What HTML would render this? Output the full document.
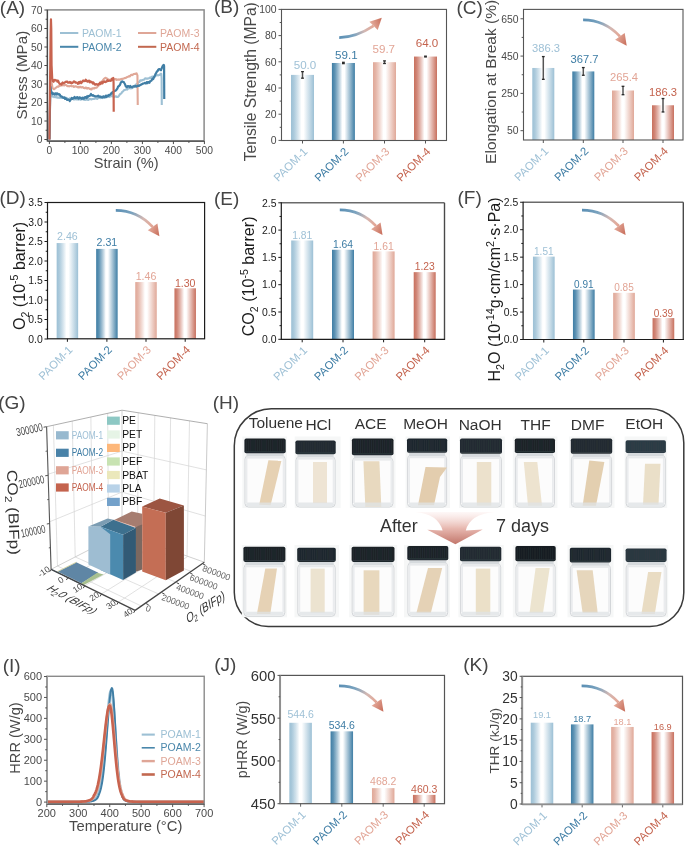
<!DOCTYPE html>
<html><head><meta charset="utf-8"><style>
html,body{margin:0;padding:0;background:#fff;}
svg{display:block;}
text{font-family:"Liberation Sans", sans-serif;}
</style></head><body>
<svg width="685" height="848" viewBox="0 0 685 848">
<defs><filter id="soft" x="0" y="0" width="685" height="848" filterUnits="userSpaceOnUse"><feGaussianBlur stdDeviation="0.45"/></filter><linearGradient id="g0" x1="0" x2="1" y1="0" y2="0"><stop offset="0" stop-color="#9cc0d5"/><stop offset="0.12" stop-color="#9cc0d5" stop-opacity="0.85"/><stop offset="0.45" stop-color="#ffffff"/><stop offset="0.55" stop-color="#ffffff"/><stop offset="1" stop-color="#9cc0d5"/></linearGradient>
<linearGradient id="g1" x1="0" x2="1" y1="0" y2="0"><stop offset="0" stop-color="#3f7ea5"/><stop offset="0.12" stop-color="#3f7ea5" stop-opacity="0.85"/><stop offset="0.45" stop-color="#ffffff"/><stop offset="0.55" stop-color="#ffffff"/><stop offset="1" stop-color="#3f7ea5"/></linearGradient>
<linearGradient id="g2" x1="0" x2="1" y1="0" y2="0"><stop offset="0" stop-color="#e0a898"/><stop offset="0.12" stop-color="#e0a898" stop-opacity="0.85"/><stop offset="0.45" stop-color="#ffffff"/><stop offset="0.55" stop-color="#ffffff"/><stop offset="1" stop-color="#e0a898"/></linearGradient>
<linearGradient id="g3" x1="0" x2="1" y1="0" y2="0"><stop offset="0" stop-color="#c8705e"/><stop offset="0.12" stop-color="#c8705e" stop-opacity="0.85"/><stop offset="0.45" stop-color="#ffffff"/><stop offset="0.55" stop-color="#ffffff"/><stop offset="1" stop-color="#c8705e"/></linearGradient>
<linearGradient id="ag1" gradientUnits="userSpaceOnUse" x1="115.8" y1="210.4" x2="159.4" y2="236.2"><stop offset="0" stop-color="#5a8fb4"/><stop offset="0.3" stop-color="#7ba3bf"/><stop offset="0.55" stop-color="#d3b7b2"/><stop offset="0.75" stop-color="#e3a999"/><stop offset="1" stop-color="#c66a57"/></linearGradient>
<linearGradient id="ag2" gradientUnits="userSpaceOnUse" x1="339.8" y1="209.9" x2="382.53" y2="234.93"><stop offset="0" stop-color="#5a8fb4"/><stop offset="0.3" stop-color="#7ba3bf"/><stop offset="0.55" stop-color="#d3b7b2"/><stop offset="0.75" stop-color="#e3a999"/><stop offset="1" stop-color="#c66a57"/></linearGradient>
<linearGradient id="ag3" gradientUnits="userSpaceOnUse" x1="582" y1="210.2" x2="625.6" y2="234.97"><stop offset="0" stop-color="#5a8fb4"/><stop offset="0.3" stop-color="#7ba3bf"/><stop offset="0.55" stop-color="#d3b7b2"/><stop offset="0.75" stop-color="#e3a999"/><stop offset="1" stop-color="#c66a57"/></linearGradient>
<linearGradient id="bigarr" x1="0" y1="0" x2="0" y2="1"><stop offset="0" stop-color="#fdf3f2" stop-opacity="0.6"/><stop offset="0.5" stop-color="#e8b9b1"/><stop offset="1" stop-color="#c2766b"/></linearGradient>
<linearGradient id="ag4" gradientUnits="userSpaceOnUse" x1="339" y1="685.9" x2="383.47" y2="711.7"><stop offset="0" stop-color="#5a8fb4"/><stop offset="0.3" stop-color="#7ba3bf"/><stop offset="0.55" stop-color="#d3b7b2"/><stop offset="0.75" stop-color="#e3a999"/><stop offset="1" stop-color="#c66a57"/></linearGradient>
<linearGradient id="ag5" gradientUnits="userSpaceOnUse" x1="581.6" y1="685.9" x2="625.2" y2="711.7"><stop offset="0" stop-color="#5a8fb4"/><stop offset="0.3" stop-color="#7ba3bf"/><stop offset="0.55" stop-color="#d3b7b2"/><stop offset="0.75" stop-color="#e3a999"/><stop offset="1" stop-color="#c66a57"/></linearGradient>
<linearGradient id="ag6" gradientUnits="userSpaceOnUse" x1="339.2" y1="37.6" x2="381.8" y2="17.7"><stop offset="0" stop-color="#5a8fb4"/><stop offset="0.3" stop-color="#7ba3bf"/><stop offset="0.55" stop-color="#d3b7b2"/><stop offset="0.75" stop-color="#e3a999"/><stop offset="1" stop-color="#c66a57"/></linearGradient>
<linearGradient id="ag7" gradientUnits="userSpaceOnUse" x1="583.1" y1="19.9" x2="626.7" y2="45.7"><stop offset="0" stop-color="#5a8fb4"/><stop offset="0.3" stop-color="#7ba3bf"/><stop offset="0.55" stop-color="#d3b7b2"/><stop offset="0.75" stop-color="#e3a999"/><stop offset="1" stop-color="#c66a57"/></linearGradient></defs>
<rect width="685" height="848" fill="#fff"/>
<g filter="url(#soft)">
<rect width="685" height="848" fill="#fff"/>
<path d="M49.4 139.5 L50.02 102.5 L50.33 91.4 L50.95 94.17 L51.73 95.39 L52.5 96.6 L53.35 96.32 L54.2 97.24 L54.85 96.8 L55.49 97.07 L56.13 97.49 L56.77 97.07 L57.42 97.67 L58.06 97.31 L58.7 97.8 L59.35 97.86 L60.01 97.57 L60.66 97.2 L61.32 98.07 L61.97 98.04 L62.63 97.67 L63.28 97.4 L63.94 97.89 L64.59 98.17 L65.24 97.61 L65.89 98.71 L66.54 97.88 L67.19 98.59 L67.84 98.82 L68.5 98.93 L69.15 98.79 L69.8 98.3 L70.45 99.08 L71.1 98.71 L71.72 98.7 L72.34 99.04 L72.96 98.9 L73.58 99.49 L74.2 99.54 L74.82 99.43 L75.44 98.95 L76.06 99.28 L76.68 99.46 L77.3 99.21 L77.92 99.41 L78.57 99.59 L79.22 99.06 L79.86 99.18 L80.51 99.71 L81.16 99.36 L81.81 99.43 L82.46 99.06 L83.11 99.23 L83.75 99.74 L84.4 98.99 L85.05 99.96 L85.7 99.61 L86.36 99.21 L87.01 99.86 L87.67 99.47 L88.32 99.95 L88.98 99.23 L89.63 99.1 L90.29 99.29 L90.94 98.94 L91.59 99.47 L92.24 98.95 L92.89 98.97 L93.54 98.9 L94.19 98.94 L94.85 98.42 L95.5 98.21 L96.15 98.64 L96.8 98.34 L97.45 98.92 L98.1 98.1 L98.75 98.04 L99.4 97.55 L100.05 97.63 L100.7 98.11 L101.36 97.89 L102.01 97.47 L102.66 98.07 L103.31 97.47 L103.96 97.69 L104.63 97.64 L105.3 97.6 L105.97 96.71 L106.65 97.32 L107.32 97.09 L107.99 96.82 L108.66 96.19 L109.33 96.96 L110 96.45 L110.68 96.38 L111.35 96.05 L112.02 96.16 L112.69 96.16 L113.36 96.85 L114.03 96.74 L114.71 96.84 L115.38 96.3 L116.05 96.26 L116.77 97.03 L117.5 96.88 L118.22 96.69 L118.89 95.92 L119.56 94.87 L120.23 93.98 L120.91 93.58 L121.58 93.09 L122.25 91.86 L122.87 91.51 L123.49 90.88 L124.11 90.05 L124.73 89.93 L125.35 89.72 L125.97 89.42 L126.59 89.17 L127.21 89.68 L127.83 88.55 L128.45 88.5 L129.12 88.21 L129.79 88.11 L130.47 88.37 L131.14 88.18 L131.81 88.33 L132.48 87.55 L133.1 87.57 L133.72 86.95 L134.34 86.17 L134.96 85.61 L135.58 84.79 L136.2 84.5 L136.84 84.05 L137.48 83.38 L138.13 82.94 L138.77 82.14 L139.41 82.02 L140.05 80.57 L140.69 80.36 L141.38 80.64 L142.07 80.28 L142.75 79.94 L143.44 79.68 L144.13 79.71 L144.81 78.67 L145.5 78.27 L146.16 78.7 L146.82 78.51 L147.48 78.79 L148.13 78.61 L148.79 78.19 L149.45 78.11 L150.11 77.32 L150.77 77.9 L151.44 77.84 L152.11 76.59 L152.78 76.85 L153.46 77.05 L154.13 76.4 L154.8 76.75 L155.5 75.98 L156.19 75.27 L156.89 75.18 L157.59 75.15 L158.29 75.42 L158.98 75.08 L159.76 74.93 L160.53 73.89 L161.31 73.79 L161.62 78.14 L161.78 105.09" fill="none" stroke="#9dc0d4" stroke-width="2.1" stroke-linejoin="round"/>
<path d="M49.4 139.5 L50.33 93.25 L50.95 74.75 L51.57 82.15 L52.5 87.89 L53.35 88.93 L54.2 89.2 L54.94 88.41 L55.68 87.96 L56.41 87.41 L57.15 86.79 L57.77 86.51 L58.39 86.71 L59.01 86.02 L59.63 85.83 L60.25 85.82 L60.87 85.45 L61.54 85.26 L62.21 85.38 L62.88 84.99 L63.56 84.79 L64.23 85.45 L64.9 84.99 L65.55 85.01 L66.2 85.12 L66.85 85.85 L67.5 86.09 L68.16 86.15 L68.81 86.26 L69.46 86.33 L70.11 85.93 L70.76 85.7 L71.41 85.84 L72.06 86.33 L72.72 86.21 L73.37 86.13 L74.03 87.01 L74.68 86.45 L75.34 86.26 L75.99 86.48 L76.65 86.6 L77.3 86.98 L77.95 87.38 L78.6 86.77 L79.24 87.35 L79.89 86.9 L80.54 86.77 L81.19 87.48 L81.84 87.54 L82.49 87 L83.13 87.32 L83.78 88 L84.43 88.11 L85.08 88.22 L85.73 87.51 L86.38 87.75 L87.03 88.61 L87.69 87.99 L88.34 87.94 L88.99 88.43 L89.64 88.9 L90.29 88.81 L90.94 89.4 L91.56 89.42 L92.18 88.24 L92.8 88.48 L93.42 88.5 L94.04 87.94 L94.66 88.37 L95.28 87.77 L95.9 87.71 L96.52 87.76 L97.14 87.09 L97.76 86.41 L98.38 85.84 L99 84.83 L99.62 84.45 L100.24 83.53 L100.86 83.11 L101.48 81.51 L102.1 81.39 L102.72 80.58 L103.34 79.74 L103.96 78.69 L104.58 78.54 L105.35 77.8 L106.13 78.08 L106.85 78.48 L107.58 78.92 L108.3 79.91 L108.92 79.53 L109.54 79.91 L110.16 80.2 L110.78 79.41 L111.4 80.02 L112.02 79.59 L112.64 79.22 L113.26 79.31 L113.88 79.48 L114.5 79.17 L115.12 79.19 L115.74 79 L116.36 79.81 L116.98 79.37 L117.6 79.78 L118.22 79.81 L118.84 79.32 L119.46 79.67 L120.08 79.68 L120.7 79.24 L121.32 78.86 L121.94 79.16 L122.56 78.76 L123.18 78.66 L123.8 78.44 L124.46 78.02 L125.13 78.08 L125.79 77.78 L126.46 77.63 L127.12 76.9 L127.79 76.96 L128.45 76.55 L129.07 76.11 L129.69 76.5 L130.31 75.79 L130.93 75 L131.55 74.74 L132.25 75.11 L132.94 74.71 L133.64 73.94 L134.34 73.93 L135.06 73.74 L135.79 73.93 L136.51 73.27 L137.44 75.36 L137.75 105.09" fill="none" stroke="#e0a898" stroke-width="2.1" stroke-linejoin="round"/>
<path d="M49.4 139.5 L50.02 102.5 L50.33 86.78 L50.95 90.47 L51.88 92.59 L52.66 94.07 L53.43 93.38 L54.2 93.72 L54.85 94.62 L55.5 93.41 L56.14 93.3 L56.79 94.58 L57.43 93.39 L58.08 94.34 L58.7 94.6 L59.32 94.16 L59.94 94.82 L60.56 96.34 L61.18 96.29 L61.8 96.55 L62.46 97.17 L63.13 97.72 L63.79 97.83 L64.46 97.48 L65.12 98.97 L65.79 98.39 L66.45 98.9 L67.12 99.91 L67.79 99.7 L68.47 99.52 L69.14 100.01 L69.81 101.07 L70.48 99.84 L71.1 99.24 L71.72 98.01 L72.44 98.96 L73.17 98.2 L73.89 98.09 L74.51 96.95 L75.13 97.89 L75.75 98.21 L76.37 97.82 L76.99 97.1 L77.61 97.34 L78.23 98.37 L78.85 98.64 L79.47 97.36 L80.09 97.94 L80.71 97.73 L81.33 98.74 L81.95 98.8 L82.57 97.75 L83.19 98.18 L83.81 98.77 L84.43 97.33 L85.05 97.59 L85.67 97.06 L86.29 98.01 L86.91 96.48 L87.53 97.55 L88.15 95.98 L88.85 96.19 L89.55 95.92 L90.24 95.1 L90.94 94.02 L91.62 95.26 L92.3 95.64 L92.99 95.13 L93.67 95.76 L94.35 96.12 L94.97 96.14 L95.59 96.44 L96.21 96.3 L96.83 96.23 L97.45 96.35 L98.1 95.67 L98.75 96.52 L99.4 96.25 L100.05 96.86 L100.7 96.65 L101.36 97.27 L102.01 96.96 L102.66 97.42 L103.31 96.3 L103.96 96.68 L104.58 97.15 L105.2 96.54 L105.82 95.64 L106.44 96.89 L107.06 95.57 L107.68 96.09 L108.3 95.85 L108.92 94.91 L109.54 95.28 L110.16 94.72 L110.78 94.05 L111.44 92.98 L112.1 93.47 L112.76 92.07 L113.41 91.7 L114.07 91.24 L114.73 91.05 L115.39 90.57 L116.05 90.48 L116.72 89.4 L117.39 88.54 L118.06 86.47 L118.74 86.32 L119.41 85.52 L120.08 84.69 L120.8 82.63 L121.53 81.78 L122.25 81.31 L123.03 81.96 L123.8 82.02 L124.42 83.23 L125.04 84.25 L125.66 86.05 L126.28 86.87 L126.95 87.17 L127.62 86.01 L128.29 85.99 L128.97 86.7 L129.64 87.2 L130.31 86 L130.96 86.99 L131.62 86.81 L132.27 87.3 L132.93 86.56 L133.58 86.3 L134.24 86.15 L134.89 86.55 L135.55 85.94 L136.2 86.67 L136.84 86.06 L137.48 86.16 L138.13 85.46 L138.77 85.87 L139.41 85.72 L140.05 85.07 L140.69 85 L141.38 84.23 L142.07 84.14 L142.75 83.58 L143.44 83.55 L144.13 83.27 L144.81 82.81 L145.5 83.44 L146.16 83.34 L146.82 82.04 L147.48 83.22 L148.13 82.05 L148.79 81.98 L149.45 82.77 L150.11 81.24 L150.77 80.94 L151.39 80.6 L152.01 79.63 L152.63 78.72 L153.25 79.05 L154.12 76.93 L154.99 75.48 L155.65 73.76 L156.31 72.64 L156.97 71.43 L157.64 70.97 L158.31 69.59 L158.98 69.08 L159.66 69.06 L160.33 69.83 L161 70.17 L161.7 68.45 L162.41 66.53 L163.11 65.42 L163.79 64.94 L164.1 66.14 L164.25 98.98" fill="none" stroke="#3f7ea5" stroke-width="2.2" stroke-linejoin="round"/>
<path d="M49.4 139.5 L50.02 84 L50.64 32.2 L50.95 19.25 L51.26 28.26 L51.57 65.27 L52.19 78.12 L52.81 81.06 L53.53 81.71 L54.26 80 L54.98 79.84 L55.6 80.44 L56.22 80.53 L56.84 80.45 L57.46 81.69 L58.08 80.6 L58.85 82.52 L59.63 83.86 L60.25 84.16 L60.87 83.95 L61.49 84.59 L62.11 83.28 L62.73 82.52 L63.35 83.09 L64.02 83.08 L64.69 82.68 L65.36 82.09 L66.04 81.72 L66.71 81.78 L67.38 81.52 L68 82.69 L68.62 82.68 L69.24 82.61 L69.86 81.82 L70.48 82.76 L71.1 82.39 L71.72 83.27 L72.34 83.04 L72.96 82.5 L73.58 81.61 L74.2 81.42 L74.82 81.67 L75.44 82.6 L76.06 82.4 L76.68 82.71 L77.3 82.92 L77.92 83.78 L78.59 82.19 L79.26 83.32 L79.94 81.73 L80.61 81.65 L81.28 83.2 L81.95 82.23 L82.57 81.19 L83.19 80.54 L83.81 81.13 L84.43 81.1 L85.05 80.84 L85.67 79.66 L86.29 81.21 L86.91 80.7 L87.61 81.7 L88.31 81.18 L89 80.57 L89.7 82.27 L90.32 81.3 L90.94 82.17 L91.56 81.77 L92.18 82.4 L92.8 83.57 L93.42 82.52 L94.04 83.47 L94.66 84.51 L95.28 84.73 L95.9 84.02 L96.67 84.28 L97.45 84.74 L98.07 84.78 L98.69 84.14 L99.31 83.93 L99.93 82.7 L100.55 84 L101.23 82.46 L101.91 82.15 L102.6 83.33 L103.28 81.69 L103.96 81.94 L104.66 81.31 L105.35 82.17 L106.05 81.74 L106.75 81.42 L107.37 80.12 L107.99 80.69 L108.61 80.93 L109.23 80.62 L109.85 80.72 L110.57 80.83 L111.3 80.42 L112.02 78.76 L112.64 79.49 L113.26 78.01 L113.57 82.61 L113.72 111.75" fill="none" stroke="#c8644f" stroke-width="2.2" stroke-linejoin="round"/>
<rect x="47.4" y="9.9" width="156.7" height="131.2" fill="none" stroke="#8a8a8a" stroke-width="1.5"/>
<line x1="47.4" y1="141.1" x2="204.1" y2="141.1" stroke="#484848" stroke-width="1.2"/>
<line x1="47.4" y1="9.9" x2="47.4" y2="141.1" stroke="#484848" stroke-width="1.2"/>
<line x1="44.4" y1="139.5" x2="47.4" y2="139.5" stroke="#484848" stroke-width="1"/>
<text x="42.4" y="143.21" font-size="10.3" fill="#4a4a4a" text-anchor="end">0</text>
<line x1="44.4" y1="121" x2="47.4" y2="121" stroke="#484848" stroke-width="1"/>
<text x="42.4" y="124.71" font-size="10.3" fill="#4a4a4a" text-anchor="end">10</text>
<line x1="44.4" y1="102.5" x2="47.4" y2="102.5" stroke="#484848" stroke-width="1"/>
<text x="42.4" y="106.21" font-size="10.3" fill="#4a4a4a" text-anchor="end">20</text>
<line x1="44.4" y1="84" x2="47.4" y2="84" stroke="#484848" stroke-width="1"/>
<text x="42.4" y="87.71" font-size="10.3" fill="#4a4a4a" text-anchor="end">30</text>
<line x1="44.4" y1="65.5" x2="47.4" y2="65.5" stroke="#484848" stroke-width="1"/>
<text x="42.4" y="69.21" font-size="10.3" fill="#4a4a4a" text-anchor="end">40</text>
<line x1="44.4" y1="47" x2="47.4" y2="47" stroke="#484848" stroke-width="1"/>
<text x="42.4" y="50.71" font-size="10.3" fill="#4a4a4a" text-anchor="end">50</text>
<line x1="44.4" y1="28.5" x2="47.4" y2="28.5" stroke="#484848" stroke-width="1"/>
<text x="42.4" y="32.21" font-size="10.3" fill="#4a4a4a" text-anchor="end">60</text>
<line x1="44.4" y1="10" x2="47.4" y2="10" stroke="#484848" stroke-width="1"/>
<text x="42.4" y="13.71" font-size="10.3" fill="#4a4a4a" text-anchor="end">70</text>
<line x1="45.6" y1="130.25" x2="47.4" y2="130.25" stroke="#484848" stroke-width="1"/>
<line x1="45.6" y1="111.75" x2="47.4" y2="111.75" stroke="#484848" stroke-width="1"/>
<line x1="45.6" y1="93.25" x2="47.4" y2="93.25" stroke="#484848" stroke-width="1"/>
<line x1="45.6" y1="74.75" x2="47.4" y2="74.75" stroke="#484848" stroke-width="1"/>
<line x1="45.6" y1="56.25" x2="47.4" y2="56.25" stroke="#484848" stroke-width="1"/>
<line x1="45.6" y1="37.75" x2="47.4" y2="37.75" stroke="#484848" stroke-width="1"/>
<line x1="45.6" y1="19.25" x2="47.4" y2="19.25" stroke="#484848" stroke-width="1"/>
<line x1="49.4" y1="141.1" x2="49.4" y2="144.1" stroke="#484848" stroke-width="1"/>
<text x="49.4" y="153.72" font-size="10.3" fill="#4a4a4a" text-anchor="middle">0</text>
<line x1="80.4" y1="141.1" x2="80.4" y2="144.1" stroke="#484848" stroke-width="1"/>
<text x="80.4" y="153.72" font-size="10.3" fill="#4a4a4a" text-anchor="middle">100</text>
<line x1="111.4" y1="141.1" x2="111.4" y2="144.1" stroke="#484848" stroke-width="1"/>
<text x="111.4" y="153.72" font-size="10.3" fill="#4a4a4a" text-anchor="middle">200</text>
<line x1="142.4" y1="141.1" x2="142.4" y2="144.1" stroke="#484848" stroke-width="1"/>
<text x="142.4" y="153.72" font-size="10.3" fill="#4a4a4a" text-anchor="middle">300</text>
<line x1="173.4" y1="141.1" x2="173.4" y2="144.1" stroke="#484848" stroke-width="1"/>
<text x="173.4" y="153.72" font-size="10.3" fill="#4a4a4a" text-anchor="middle">400</text>
<line x1="204.4" y1="141.1" x2="204.4" y2="144.1" stroke="#484848" stroke-width="1"/>
<text x="204.4" y="153.72" font-size="10.3" fill="#4a4a4a" text-anchor="middle">500</text>
<line x1="64.9" y1="141.1" x2="64.9" y2="142.9" stroke="#484848" stroke-width="1"/>
<line x1="95.9" y1="141.1" x2="95.9" y2="142.9" stroke="#484848" stroke-width="1"/>
<line x1="126.9" y1="141.1" x2="126.9" y2="142.9" stroke="#484848" stroke-width="1"/>
<line x1="157.9" y1="141.1" x2="157.9" y2="142.9" stroke="#484848" stroke-width="1"/>
<line x1="188.9" y1="141.1" x2="188.9" y2="142.9" stroke="#484848" stroke-width="1"/>
<line x1="60" y1="33" x2="78.3" y2="33" stroke="#9dc0d4" stroke-width="2"/>
<text x="82" y="36.7" font-size="10.5" fill="#9dc0d4" text-anchor="start">PAOM-1</text>
<line x1="60" y1="46.8" x2="78.3" y2="46.8" stroke="#4a87ab" stroke-width="2"/>
<text x="82" y="50.5" font-size="10.5" fill="#4a87ab" text-anchor="start">PAOM-2</text>
<line x1="138" y1="33" x2="156.3" y2="33" stroke="#dfa697" stroke-width="2"/>
<text x="160" y="36.7" font-size="10.5" fill="#dfa697" text-anchor="start">PAOM-3</text>
<line x1="138" y1="46.8" x2="156.3" y2="46.8" stroke="#c26850" stroke-width="2"/>
<text x="160" y="50.5" font-size="10.5" fill="#c26850" text-anchor="start">PAOM-4</text>
<rect x="291" y="74.9" width="23" height="65.6" fill="url(#g0)"/>
<rect x="331.9" y="62.98" width="23" height="77.52" fill="url(#g1)"/>
<rect x="373" y="62.19" width="23" height="78.31" fill="url(#g2)"/>
<rect x="414" y="56.56" width="23" height="83.94" fill="url(#g3)"/>
<line x1="302.5" y1="71.62" x2="302.5" y2="78.18" stroke="#555" stroke-width="1.5"/>
<line x1="301.1" y1="71.62" x2="303.9" y2="71.62" stroke="#2a2a2a" stroke-width="1.3"/>
<line x1="301.1" y1="78.18" x2="303.9" y2="78.18" stroke="#2a2a2a" stroke-width="1.3"/>
<line x1="343.4" y1="62.32" x2="343.4" y2="63.63" stroke="#555" stroke-width="1.5"/>
<line x1="342" y1="62.32" x2="344.8" y2="62.32" stroke="#2a2a2a" stroke-width="1.3"/>
<line x1="342" y1="63.63" x2="344.8" y2="63.63" stroke="#2a2a2a" stroke-width="1.3"/>
<line x1="384.5" y1="60.88" x2="384.5" y2="63.5" stroke="#555" stroke-width="1.5"/>
<line x1="383.1" y1="60.88" x2="385.9" y2="60.88" stroke="#2a2a2a" stroke-width="1.3"/>
<line x1="383.1" y1="63.5" x2="385.9" y2="63.5" stroke="#2a2a2a" stroke-width="1.3"/>
<line x1="425.5" y1="56.17" x2="425.5" y2="56.95" stroke="#555" stroke-width="1.5"/>
<line x1="424.1" y1="56.17" x2="426.9" y2="56.17" stroke="#2a2a2a" stroke-width="1.3"/>
<line x1="424.1" y1="56.95" x2="426.9" y2="56.95" stroke="#2a2a2a" stroke-width="1.3"/>
<text x="305" y="68.6" font-size="11.6" fill="#9fc1d6" text-anchor="middle">50.0</text>
<text x="346.4" y="58.8" font-size="11.6" fill="#3d7ca4" text-anchor="middle">59.1</text>
<text x="383.8" y="53.2" font-size="11.6" fill="#e2a596" text-anchor="middle">59.7</text>
<text x="427" y="46.9" font-size="11.6" fill="#c4634e" text-anchor="middle">64.0</text>
<line x1="302.5" y1="140.5" x2="302.5" y2="143.5" stroke="#555" stroke-width="1"/>
<line x1="343.4" y1="140.5" x2="343.4" y2="143.5" stroke="#555" stroke-width="1"/>
<line x1="384.5" y1="140.5" x2="384.5" y2="143.5" stroke="#555" stroke-width="1"/>
<line x1="425.5" y1="140.5" x2="425.5" y2="143.5" stroke="#555" stroke-width="1"/>
<text x="308.3" y="152.3" font-size="11.3" fill="#9fc1d6" text-anchor="end" transform="rotate(-45 308.3 152.3)">PAOM-1</text>
<text x="349.2" y="152.3" font-size="11.3" fill="#3d7ca4" text-anchor="end" transform="rotate(-45 349.2 152.3)">PAOM-2</text>
<text x="390.3" y="152.3" font-size="11.3" fill="#e2a596" text-anchor="end" transform="rotate(-45 390.3 152.3)">PAOM-3</text>
<text x="431.3" y="152.3" font-size="11.3" fill="#c4634e" text-anchor="end" transform="rotate(-45 431.3 152.3)">PAOM-4</text>
<rect x="281.5" y="9.4" width="165" height="131.1" fill="none" stroke="#555" stroke-width="1.1"/>
<line x1="278.5" y1="140.4" x2="281.5" y2="140.4" stroke="#555" stroke-width="1"/>
<text x="276.5" y="144.14" font-size="10.4" fill="#4a4a4a" text-anchor="end">0</text>
<line x1="278.5" y1="114.2" x2="281.5" y2="114.2" stroke="#555" stroke-width="1"/>
<text x="276.5" y="117.94" font-size="10.4" fill="#4a4a4a" text-anchor="end">20</text>
<line x1="278.5" y1="88" x2="281.5" y2="88" stroke="#555" stroke-width="1"/>
<text x="276.5" y="91.74" font-size="10.4" fill="#4a4a4a" text-anchor="end">40</text>
<line x1="278.5" y1="61.8" x2="281.5" y2="61.8" stroke="#555" stroke-width="1"/>
<text x="276.5" y="65.54" font-size="10.4" fill="#4a4a4a" text-anchor="end">60</text>
<line x1="278.5" y1="35.6" x2="281.5" y2="35.6" stroke="#555" stroke-width="1"/>
<text x="276.5" y="39.34" font-size="10.4" fill="#4a4a4a" text-anchor="end">80</text>
<line x1="278.5" y1="9.4" x2="281.5" y2="9.4" stroke="#555" stroke-width="1"/>
<text x="276.5" y="13.14" font-size="10.4" fill="#4a4a4a" text-anchor="end">100</text>
<line x1="279.7" y1="127.3" x2="281.5" y2="127.3" stroke="#555" stroke-width="1"/>
<line x1="279.7" y1="101.1" x2="281.5" y2="101.1" stroke="#555" stroke-width="1"/>
<line x1="279.7" y1="74.9" x2="281.5" y2="74.9" stroke="#555" stroke-width="1"/>
<line x1="279.7" y1="48.7" x2="281.5" y2="48.7" stroke="#555" stroke-width="1"/>
<line x1="279.7" y1="22.5" x2="281.5" y2="22.5" stroke="#555" stroke-width="1"/>
<rect x="532.3" y="67.96" width="22" height="72.04" fill="url(#g0)"/>
<rect x="572.3" y="71.42" width="22" height="68.58" fill="url(#g1)"/>
<rect x="612" y="90.5" width="22" height="49.5" fill="url(#g2)"/>
<rect x="652" y="105.26" width="22" height="34.74" fill="url(#g3)"/>
<line x1="543.3" y1="56.58" x2="543.3" y2="79.33" stroke="#555" stroke-width="1.5"/>
<line x1="541.9" y1="56.58" x2="544.7" y2="56.58" stroke="#2a2a2a" stroke-width="1.3"/>
<line x1="541.9" y1="79.33" x2="544.7" y2="79.33" stroke="#2a2a2a" stroke-width="1.3"/>
<line x1="583.3" y1="67.58" x2="583.3" y2="75.27" stroke="#555" stroke-width="1.5"/>
<line x1="581.9" y1="67.58" x2="584.7" y2="67.58" stroke="#2a2a2a" stroke-width="1.3"/>
<line x1="581.9" y1="75.27" x2="584.7" y2="75.27" stroke="#2a2a2a" stroke-width="1.3"/>
<line x1="623" y1="86.31" x2="623" y2="94.7" stroke="#555" stroke-width="1.5"/>
<line x1="621.6" y1="86.31" x2="624.4" y2="86.31" stroke="#2a2a2a" stroke-width="1.3"/>
<line x1="621.6" y1="94.7" x2="624.4" y2="94.7" stroke="#2a2a2a" stroke-width="1.3"/>
<line x1="663" y1="98.54" x2="663" y2="111.97" stroke="#555" stroke-width="1.5"/>
<line x1="661.6" y1="98.54" x2="664.4" y2="98.54" stroke="#2a2a2a" stroke-width="1.3"/>
<line x1="661.6" y1="111.97" x2="664.4" y2="111.97" stroke="#2a2a2a" stroke-width="1.3"/>
<text x="546.1" y="52" font-size="11.2" fill="#9fc1d6" text-anchor="middle">386.3</text>
<text x="584.6" y="63.3" font-size="11.2" fill="#3d7ca4" text-anchor="middle">367.7</text>
<text x="624" y="81" font-size="11.2" fill="#e2a596" text-anchor="middle">265.4</text>
<text x="663" y="96.2" font-size="11.2" fill="#c4634e" text-anchor="middle">186.3</text>
<line x1="543.3" y1="140" x2="543.3" y2="143" stroke="#555" stroke-width="1"/>
<line x1="583.3" y1="140" x2="583.3" y2="143" stroke="#555" stroke-width="1"/>
<line x1="623" y1="140" x2="623" y2="143" stroke="#555" stroke-width="1"/>
<line x1="663" y1="140" x2="663" y2="143" stroke="#555" stroke-width="1"/>
<text x="549.1" y="151.8" font-size="11.3" fill="#9fc1d6" text-anchor="end" transform="rotate(-45 549.1 151.8)">PAOM-1</text>
<text x="589.1" y="151.8" font-size="11.3" fill="#3d7ca4" text-anchor="end" transform="rotate(-45 589.1 151.8)">PAOM-2</text>
<text x="628.8" y="151.8" font-size="11.3" fill="#e2a596" text-anchor="end" transform="rotate(-45 628.8 151.8)">PAOM-3</text>
<text x="668.8" y="151.8" font-size="11.3" fill="#c4634e" text-anchor="end" transform="rotate(-45 668.8 151.8)">PAOM-4</text>
<rect x="523.5" y="9.4" width="159.5" height="130.6" fill="none" stroke="#555" stroke-width="1.1"/>
<line x1="520.5" y1="130.68" x2="523.5" y2="130.68" stroke="#555" stroke-width="1"/>
<text x="518.5" y="134.42" font-size="10.4" fill="#4a4a4a" text-anchor="end">50</text>
<line x1="520.5" y1="93.38" x2="523.5" y2="93.38" stroke="#555" stroke-width="1"/>
<text x="518.5" y="97.12" font-size="10.4" fill="#4a4a4a" text-anchor="end">250</text>
<line x1="520.5" y1="56.08" x2="523.5" y2="56.08" stroke="#555" stroke-width="1"/>
<text x="518.5" y="59.82" font-size="10.4" fill="#4a4a4a" text-anchor="end">450</text>
<line x1="520.5" y1="18.78" x2="523.5" y2="18.78" stroke="#555" stroke-width="1"/>
<text x="518.5" y="22.52" font-size="10.4" fill="#4a4a4a" text-anchor="end">650</text>
<line x1="521.7" y1="112.03" x2="523.5" y2="112.03" stroke="#555" stroke-width="1"/>
<line x1="521.7" y1="74.72" x2="523.5" y2="74.72" stroke="#555" stroke-width="1"/>
<line x1="521.7" y1="37.42" x2="523.5" y2="37.42" stroke="#555" stroke-width="1"/>
<rect x="56.65" y="243.06" width="21.5" height="95.74" fill="url(#g0)"/>
<rect x="96.15" y="248.91" width="21.5" height="89.89" fill="url(#g1)"/>
<rect x="135.25" y="282.06" width="21.5" height="56.74" fill="url(#g2)"/>
<rect x="174.45" y="288.3" width="21.5" height="50.5" fill="url(#g3)"/>
<text x="67.4" y="240.2" font-size="10.6" fill="#9fc1d6" text-anchor="middle">2.46</text>
<text x="106.9" y="246.2" font-size="10.6" fill="#3d7ca4" text-anchor="middle">2.31</text>
<text x="146" y="280.2" font-size="10.6" fill="#e2a596" text-anchor="middle">1.46</text>
<text x="185.2" y="286.7" font-size="10.6" fill="#c4634e" text-anchor="middle">1.30</text>
<line x1="67.4" y1="338.8" x2="67.4" y2="341.8" stroke="#1a1a1a" stroke-width="1"/>
<line x1="106.9" y1="338.8" x2="106.9" y2="341.8" stroke="#1a1a1a" stroke-width="1"/>
<line x1="146" y1="338.8" x2="146" y2="341.8" stroke="#1a1a1a" stroke-width="1"/>
<line x1="185.2" y1="338.8" x2="185.2" y2="341.8" stroke="#1a1a1a" stroke-width="1"/>
<text x="73.2" y="350.6" font-size="11.3" fill="#9fc1d6" text-anchor="end" transform="rotate(-45 73.2 350.6)">PAOM-1</text>
<text x="112.7" y="350.6" font-size="11.3" fill="#3d7ca4" text-anchor="end" transform="rotate(-45 112.7 350.6)">PAOM-2</text>
<text x="151.8" y="350.6" font-size="11.3" fill="#e2a596" text-anchor="end" transform="rotate(-45 151.8 350.6)">PAOM-3</text>
<text x="191" y="350.6" font-size="11.3" fill="#c4634e" text-anchor="end" transform="rotate(-45 191 350.6)">PAOM-4</text>
<rect x="47.5" y="202.5" width="157.1" height="136.3" fill="none" stroke="#1a1a1a" stroke-width="1.2"/>
<line x1="44.5" y1="339" x2="47.5" y2="339" stroke="#1a1a1a" stroke-width="1"/>
<text x="42.7" y="342.74" font-size="10.4" fill="#1a1a1a" text-anchor="end">0.0</text>
<line x1="44.5" y1="319.5" x2="47.5" y2="319.5" stroke="#1a1a1a" stroke-width="1"/>
<text x="42.7" y="323.24" font-size="10.4" fill="#1a1a1a" text-anchor="end">0.5</text>
<line x1="44.5" y1="300" x2="47.5" y2="300" stroke="#1a1a1a" stroke-width="1"/>
<text x="42.7" y="303.74" font-size="10.4" fill="#1a1a1a" text-anchor="end">1.0</text>
<line x1="44.5" y1="280.5" x2="47.5" y2="280.5" stroke="#1a1a1a" stroke-width="1"/>
<text x="42.7" y="284.24" font-size="10.4" fill="#1a1a1a" text-anchor="end">1.5</text>
<line x1="44.5" y1="261" x2="47.5" y2="261" stroke="#1a1a1a" stroke-width="1"/>
<text x="42.7" y="264.74" font-size="10.4" fill="#1a1a1a" text-anchor="end">2.0</text>
<line x1="44.5" y1="241.5" x2="47.5" y2="241.5" stroke="#1a1a1a" stroke-width="1"/>
<text x="42.7" y="245.24" font-size="10.4" fill="#1a1a1a" text-anchor="end">2.5</text>
<line x1="44.5" y1="222" x2="47.5" y2="222" stroke="#1a1a1a" stroke-width="1"/>
<text x="42.7" y="225.74" font-size="10.4" fill="#1a1a1a" text-anchor="end">3.0</text>
<line x1="44.5" y1="202.5" x2="47.5" y2="202.5" stroke="#1a1a1a" stroke-width="1"/>
<text x="42.7" y="206.24" font-size="10.4" fill="#1a1a1a" text-anchor="end">3.5</text>
<line x1="45.7" y1="329.25" x2="47.5" y2="329.25" stroke="#1a1a1a" stroke-width="1"/>
<line x1="45.7" y1="309.75" x2="47.5" y2="309.75" stroke="#1a1a1a" stroke-width="1"/>
<line x1="45.7" y1="290.25" x2="47.5" y2="290.25" stroke="#1a1a1a" stroke-width="1"/>
<line x1="45.7" y1="270.75" x2="47.5" y2="270.75" stroke="#1a1a1a" stroke-width="1"/>
<line x1="45.7" y1="251.25" x2="47.5" y2="251.25" stroke="#1a1a1a" stroke-width="1"/>
<line x1="45.7" y1="231.75" x2="47.5" y2="231.75" stroke="#1a1a1a" stroke-width="1"/>
<line x1="45.7" y1="212.25" x2="47.5" y2="212.25" stroke="#1a1a1a" stroke-width="1"/>
<path d="M115.8 210.4 Q137.2 210.4 152.6 226.9" fill="none" stroke="url(#ag1)" stroke-width="2.7"/>
<path d="M159.4 236.2 L147.8 230.3 L157.4 223.5 Z" fill="url(#ag1)"/>
<rect x="291.2" y="240.47" width="22" height="98.83" fill="url(#g0)"/>
<rect x="332" y="249.76" width="22" height="89.54" fill="url(#g1)"/>
<rect x="372.6" y="251.39" width="22" height="87.91" fill="url(#g2)"/>
<rect x="413.7" y="272.14" width="22" height="67.16" fill="url(#g3)"/>
<text x="302.2" y="238.5" font-size="10.3" fill="#9fc1d6" text-anchor="middle">1.81</text>
<text x="343" y="247.8" font-size="10.3" fill="#3d7ca4" text-anchor="middle">1.64</text>
<text x="383.6" y="249.5" font-size="10.3" fill="#e2a596" text-anchor="middle">1.61</text>
<text x="424.7" y="270.2" font-size="10.3" fill="#c4634e" text-anchor="middle">1.23</text>
<line x1="302.2" y1="339.3" x2="302.2" y2="342.3" stroke="#1a1a1a" stroke-width="1"/>
<line x1="343" y1="339.3" x2="343" y2="342.3" stroke="#1a1a1a" stroke-width="1"/>
<line x1="383.6" y1="339.3" x2="383.6" y2="342.3" stroke="#1a1a1a" stroke-width="1"/>
<line x1="424.7" y1="339.3" x2="424.7" y2="342.3" stroke="#1a1a1a" stroke-width="1"/>
<text x="308" y="351.1" font-size="11.3" fill="#9fc1d6" text-anchor="end" transform="rotate(-45 308 351.1)">PAOM-1</text>
<text x="348.8" y="351.1" font-size="11.3" fill="#3d7ca4" text-anchor="end" transform="rotate(-45 348.8 351.1)">PAOM-2</text>
<text x="389.4" y="351.1" font-size="11.3" fill="#e2a596" text-anchor="end" transform="rotate(-45 389.4 351.1)">PAOM-3</text>
<text x="430.5" y="351.1" font-size="11.3" fill="#c4634e" text-anchor="end" transform="rotate(-45 430.5 351.1)">PAOM-4</text>
<line x1="281.3" y1="202.8" x2="444.5" y2="202.8" stroke="#6a6a6a" stroke-width="1.5"/>
<line x1="444.5" y1="202.8" x2="444.5" y2="339.3" stroke="#4a4a4a" stroke-width="1.4"/>
<line x1="281.3" y1="339.3" x2="445.1" y2="339.3" stroke="#1a1a1a" stroke-width="1.2"/>
<line x1="281.3" y1="202.2" x2="281.3" y2="339.9" stroke="#1a1a1a" stroke-width="1.2"/>
<line x1="278.3" y1="339.3" x2="281.3" y2="339.3" stroke="#1a1a1a" stroke-width="1"/>
<text x="276.5" y="343.04" font-size="10.4" fill="#1a1a1a" text-anchor="end">0.0</text>
<line x1="278.3" y1="312" x2="281.3" y2="312" stroke="#1a1a1a" stroke-width="1"/>
<text x="276.5" y="315.74" font-size="10.4" fill="#1a1a1a" text-anchor="end">0.5</text>
<line x1="278.3" y1="284.7" x2="281.3" y2="284.7" stroke="#1a1a1a" stroke-width="1"/>
<text x="276.5" y="288.44" font-size="10.4" fill="#1a1a1a" text-anchor="end">1.0</text>
<line x1="278.3" y1="257.4" x2="281.3" y2="257.4" stroke="#1a1a1a" stroke-width="1"/>
<text x="276.5" y="261.14" font-size="10.4" fill="#1a1a1a" text-anchor="end">1.5</text>
<line x1="278.3" y1="230.1" x2="281.3" y2="230.1" stroke="#1a1a1a" stroke-width="1"/>
<text x="276.5" y="233.84" font-size="10.4" fill="#1a1a1a" text-anchor="end">2.0</text>
<line x1="278.3" y1="202.8" x2="281.3" y2="202.8" stroke="#1a1a1a" stroke-width="1"/>
<text x="276.5" y="206.54" font-size="10.4" fill="#1a1a1a" text-anchor="end">2.5</text>
<line x1="279.5" y1="325.65" x2="281.3" y2="325.65" stroke="#1a1a1a" stroke-width="1"/>
<line x1="279.5" y1="298.35" x2="281.3" y2="298.35" stroke="#1a1a1a" stroke-width="1"/>
<line x1="279.5" y1="271.05" x2="281.3" y2="271.05" stroke="#1a1a1a" stroke-width="1"/>
<line x1="279.5" y1="243.75" x2="281.3" y2="243.75" stroke="#1a1a1a" stroke-width="1"/>
<line x1="279.5" y1="216.45" x2="281.3" y2="216.45" stroke="#1a1a1a" stroke-width="1"/>
<path d="M339.8 209.9 Q360.77 209.9 375.86 225.91" fill="none" stroke="url(#ag2)" stroke-width="2.7"/>
<path d="M382.53 234.93 L371.16 229.2 L380.57 222.61 Z" fill="url(#ag2)"/>
<rect x="532.95" y="256.6" width="21.7" height="82.9" fill="url(#g0)"/>
<rect x="572.95" y="289.54" width="21.7" height="49.96" fill="url(#g1)"/>
<rect x="613.15" y="292.83" width="21.7" height="46.67" fill="url(#g2)"/>
<rect x="652.55" y="318.09" width="21.7" height="21.41" fill="url(#g3)"/>
<text x="543.8" y="254.8" font-size="10" fill="#9fc1d6" text-anchor="middle">1.51</text>
<text x="583.8" y="287.8" font-size="10" fill="#3d7ca4" text-anchor="middle">0.91</text>
<text x="624" y="291.2" font-size="10" fill="#e2a596" text-anchor="middle">0.85</text>
<text x="663.4" y="316.5" font-size="10" fill="#c4634e" text-anchor="middle">0.39</text>
<line x1="543.8" y1="339.5" x2="543.8" y2="342.5" stroke="#1a1a1a" stroke-width="1"/>
<line x1="583.8" y1="339.5" x2="583.8" y2="342.5" stroke="#1a1a1a" stroke-width="1"/>
<line x1="624" y1="339.5" x2="624" y2="342.5" stroke="#1a1a1a" stroke-width="1"/>
<line x1="663.4" y1="339.5" x2="663.4" y2="342.5" stroke="#1a1a1a" stroke-width="1"/>
<text x="549.6" y="351.3" font-size="11.3" fill="#9fc1d6" text-anchor="end" transform="rotate(-45 549.6 351.3)">PAOM-1</text>
<text x="589.6" y="351.3" font-size="11.3" fill="#3d7ca4" text-anchor="end" transform="rotate(-45 589.6 351.3)">PAOM-2</text>
<text x="629.8" y="351.3" font-size="11.3" fill="#e2a596" text-anchor="end" transform="rotate(-45 629.8 351.3)">PAOM-3</text>
<text x="669.2" y="351.3" font-size="11.3" fill="#c4634e" text-anchor="end" transform="rotate(-45 669.2 351.3)">PAOM-4</text>
<line x1="523.1" y1="202.3" x2="683.3" y2="202.3" stroke="#6a6a6a" stroke-width="1.5"/>
<line x1="683.3" y1="202.3" x2="683.3" y2="339.5" stroke="#4a4a4a" stroke-width="1.4"/>
<line x1="523.1" y1="339.5" x2="683.9" y2="339.5" stroke="#1a1a1a" stroke-width="1.2"/>
<line x1="523.1" y1="201.7" x2="523.1" y2="340.1" stroke="#1a1a1a" stroke-width="1.2"/>
<line x1="520.1" y1="339.5" x2="523.1" y2="339.5" stroke="#1a1a1a" stroke-width="1"/>
<text x="518.3" y="343.24" font-size="10.4" fill="#1a1a1a" text-anchor="end">0.0</text>
<line x1="520.1" y1="312.05" x2="523.1" y2="312.05" stroke="#1a1a1a" stroke-width="1"/>
<text x="518.3" y="315.79" font-size="10.4" fill="#1a1a1a" text-anchor="end">0.5</text>
<line x1="520.1" y1="284.6" x2="523.1" y2="284.6" stroke="#1a1a1a" stroke-width="1"/>
<text x="518.3" y="288.34" font-size="10.4" fill="#1a1a1a" text-anchor="end">1.0</text>
<line x1="520.1" y1="257.15" x2="523.1" y2="257.15" stroke="#1a1a1a" stroke-width="1"/>
<text x="518.3" y="260.89" font-size="10.4" fill="#1a1a1a" text-anchor="end">1.5</text>
<line x1="520.1" y1="229.7" x2="523.1" y2="229.7" stroke="#1a1a1a" stroke-width="1"/>
<text x="518.3" y="233.44" font-size="10.4" fill="#1a1a1a" text-anchor="end">2.0</text>
<line x1="520.1" y1="202.25" x2="523.1" y2="202.25" stroke="#1a1a1a" stroke-width="1"/>
<text x="518.3" y="205.99" font-size="10.4" fill="#1a1a1a" text-anchor="end">2.5</text>
<line x1="521.3" y1="325.77" x2="523.1" y2="325.77" stroke="#1a1a1a" stroke-width="1"/>
<line x1="521.3" y1="298.32" x2="523.1" y2="298.32" stroke="#1a1a1a" stroke-width="1"/>
<line x1="521.3" y1="270.88" x2="523.1" y2="270.88" stroke="#1a1a1a" stroke-width="1"/>
<line x1="521.3" y1="243.43" x2="523.1" y2="243.43" stroke="#1a1a1a" stroke-width="1"/>
<line x1="521.3" y1="215.98" x2="523.1" y2="215.98" stroke="#1a1a1a" stroke-width="1"/>
<path d="M582 210.2 Q603.4 210.2 618.8 226.04" fill="none" stroke="url(#ag3)" stroke-width="2.7"/>
<path d="M625.6 234.97 L614 229.3 L623.6 222.78 Z" fill="url(#ag3)"/>
<line x1="57.48" y1="566.03" x2="53.39" y2="425.21" stroke="#d4d4d4" stroke-width="0.7"/>
<line x1="75.21" y1="556.96" x2="72.24" y2="421.09" stroke="#d4d4d4" stroke-width="0.7"/>
<line x1="92.72" y1="547.99" x2="90.86" y2="417.01" stroke="#d4d4d4" stroke-width="0.7"/>
<line x1="108.53" y1="539.9" x2="107.67" y2="413.33" stroke="#d4d4d4" stroke-width="0.7"/>
<line x1="49.6" y1="521.77" x2="122" y2="492.07" stroke="#d4d4d4" stroke-width="0.7"/>
<line x1="48.1" y1="474.23" x2="122" y2="451.13" stroke="#d4d4d4" stroke-width="0.7"/>
<line x1="137.61" y1="538.54" x2="138.2" y2="412.76" stroke="#d4d4d4" stroke-width="0.7"/>
<line x1="153.61" y1="544.21" x2="154.8" y2="415.39" stroke="#d4d4d4" stroke-width="0.7"/>
<line x1="168.84" y1="549.62" x2="170.6" y2="417.88" stroke="#d4d4d4" stroke-width="0.7"/>
<line x1="187.05" y1="556.08" x2="189.5" y2="420.87" stroke="#d4d4d4" stroke-width="0.7"/>
<line x1="122" y1="492.07" x2="205.33" y2="516.03" stroke="#d4d4d4" stroke-width="0.7"/>
<line x1="122" y1="451.13" x2="206.37" y2="469.87" stroke="#d4d4d4" stroke-width="0.7"/>
<line x1="67.9" y1="577.52" x2="138.46" y2="538.84" stroke="#d4d4d4" stroke-width="0.7"/>
<line x1="84.7" y1="585.74" x2="154.92" y2="544.68" stroke="#d4d4d4" stroke-width="0.7"/>
<line x1="101.5" y1="593.96" x2="171.38" y2="550.52" stroke="#d4d4d4" stroke-width="0.7"/>
<line x1="118.3" y1="602.18" x2="187.84" y2="556.36" stroke="#d4d4d4" stroke-width="0.7"/>
<line x1="57.48" y1="566.03" x2="141.33" y2="606.06" stroke="#d4d4d4" stroke-width="0.7"/>
<line x1="75.21" y1="556.96" x2="158.63" y2="594.01" stroke="#d4d4d4" stroke-width="0.7"/>
<line x1="92.72" y1="547.99" x2="175.72" y2="582.11" stroke="#d4d4d4" stroke-width="0.7"/>
<line x1="108.53" y1="539.9" x2="191.15" y2="571.36" stroke="#d4d4d4" stroke-width="0.7"/>
<line x1="46.6" y1="426.7" x2="122" y2="410.2" stroke="#9a9a9a" stroke-width="0.8"/>
<line x1="122" y1="410.2" x2="207.4" y2="423.7" stroke="#9a9a9a" stroke-width="0.8"/>
<line x1="122" y1="410.2" x2="122" y2="533" stroke="#bdbdbd" stroke-width="0.7"/>
<line x1="51.1" y1="569.3" x2="122" y2="533" stroke="#bdbdbd" stroke-width="0.7"/>
<line x1="122" y1="533" x2="204.3" y2="562.2" stroke="#bdbdbd" stroke-width="0.7"/>
<line x1="207.4" y1="423.7" x2="204.3" y2="562.2" stroke="#bdbdbd" stroke-width="0.8"/>
<polygon points="57.5,571.6 76.2,562.3 98.4,572.8 81.5,583.3" fill="#5f86a5"/>
<polygon points="80.3,583.9 97.2,572.8 103.6,574.5 83.8,585" fill="#a8c090"/>
<line x1="57.5" y1="571.6" x2="76.2" y2="562.3" stroke="#dcd9a8" stroke-width="1"/>
<line x1="52" y1="569.8" x2="80" y2="583.5" stroke="#6d97b8" stroke-width="1.2"/>
<polygon points="114.2,520.1 131.7,511.4 142.2,513.7 142.2,526 135.2,527.1" fill="#a67d70"/>
<polygon points="135.2,527.1 142.2,524.5 142.2,569.5 135.2,572" fill="#7c6760"/>
<line x1="114.2" y1="520.1" x2="135.2" y2="527.1" stroke="#f0c0b0" stroke-width="0.8"/>
<polygon points="100.5,526.8 113.3,519.7 135.9,528.1 123.1,534.8" fill="#3e6f8e"/>
<polygon points="100.5,526.8 123.1,534.8 123.1,579.9 100.5,570" fill="#4c8aae"/>
<polygon points="123.1,534.8 135.9,528.1 135.9,572.5 123.1,579.9" fill="#335a74"/>
<polygon points="88.4,526.4 107.6,518.4 113.3,519.7 100.5,526.8" fill="#7b9db3"/>
<polygon points="88.4,526.4 100.5,526.8 110.2,534.3 110.2,574.6 88.4,564.4" fill="#9ebdd2"/>
<polygon points="142.2,506.6 159.7,498.4 183.9,505.4 165.8,512.8" fill="#9c5542"/>
<polygon points="142.2,506.6 165.8,512.8 165.8,580.2 142.2,571.5" fill="#c46e55"/>
<polygon points="165.8,512.8 183.9,505.4 183.9,570.6 165.8,580.2" fill="#7f4636"/>
<line x1="46.6" y1="426.7" x2="51.1" y2="569.3" stroke="#555" stroke-width="1.1"/>
<line x1="51.1" y1="569.3" x2="135.1" y2="610.4" stroke="#444" stroke-width="1.3"/>
<line x1="135.1" y1="610.4" x2="204.3" y2="562.2" stroke="#444" stroke-width="1.3"/>
<line x1="43.6" y1="427.2" x2="46.6" y2="426.7" stroke="#555" stroke-width="1"/>
<line x1="45.2" y1="475.8" x2="48.2" y2="475.3" stroke="#555" stroke-width="1"/>
<line x1="46.8" y1="524" x2="49.8" y2="523.5" stroke="#555" stroke-width="1"/>
<line x1="45.6" y1="451.3" x2="47.4" y2="451" stroke="#555" stroke-width="0.9"/>
<line x1="47.2" y1="499.7" x2="49" y2="499.4" stroke="#555" stroke-width="0.9"/>
<line x1="48.8" y1="547.9" x2="50.6" y2="547.6" stroke="#555" stroke-width="0.9"/>
<text x="17" y="436.3" font-size="11.5" fill="#4a4a4a" textLength="27" lengthAdjust="spacingAndGlyphs" transform="rotate(-12 17 436.3)">300000</text>
<text x="19.6" y="488.2" font-size="11.5" fill="#4a4a4a" textLength="26" lengthAdjust="spacingAndGlyphs" transform="rotate(-12 19.6 488.2)">200000</text>
<text x="21.7" y="537.6" font-size="11.5" fill="#4a4a4a" textLength="25" lengthAdjust="spacingAndGlyphs" transform="rotate(-12 21.7 537.6)">100000</text>
<line x1="51.1" y1="569.3" x2="49.6" y2="571.8" stroke="#444" stroke-width="1"/>
<text x="45.6" y="574.1" font-size="8.6" fill="#4a4a4a" text-anchor="middle" transform="rotate(-35 45.6 574.1)">-10</text>
<line x1="67.9" y1="577.52" x2="66.4" y2="580.02" stroke="#444" stroke-width="1"/>
<text x="62.4" y="582.32" font-size="8.6" fill="#4a4a4a" text-anchor="middle" transform="rotate(-35 62.4 582.32)">0</text>
<line x1="84.7" y1="585.74" x2="83.2" y2="588.24" stroke="#444" stroke-width="1"/>
<text x="79.2" y="590.54" font-size="8.6" fill="#4a4a4a" text-anchor="middle" transform="rotate(-35 79.2 590.54)">10</text>
<line x1="101.5" y1="593.96" x2="100" y2="596.46" stroke="#444" stroke-width="1"/>
<text x="96" y="598.76" font-size="8.6" fill="#4a4a4a" text-anchor="middle" transform="rotate(-35 96 598.76)">20</text>
<line x1="118.3" y1="602.18" x2="116.8" y2="604.68" stroke="#444" stroke-width="1"/>
<text x="112.8" y="606.98" font-size="8.6" fill="#4a4a4a" text-anchor="middle" transform="rotate(-35 112.8 606.98)">30</text>
<line x1="135.1" y1="610.4" x2="133.6" y2="612.9" stroke="#444" stroke-width="1"/>
<text x="129.6" y="615.2" font-size="8.6" fill="#4a4a4a" text-anchor="middle" transform="rotate(-35 129.6 615.2)">40</text>
<line x1="146.1" y1="603.6" x2="148.6" y2="604.8" stroke="#444" stroke-width="1"/>
<text x="144.9" y="610.4" font-size="8.8" fill="#666" transform="rotate(20 144.9 610.4)">0</text>
<line x1="162.1" y1="592.9" x2="164.6" y2="594.1" stroke="#444" stroke-width="1"/>
<text x="160.9" y="599.7" font-size="8.8" fill="#666" textLength="29" lengthAdjust="spacingAndGlyphs" transform="rotate(20 160.9 599.7)">200000</text>
<line x1="176.6" y1="582.7" x2="179.1" y2="583.9" stroke="#444" stroke-width="1"/>
<text x="175.4" y="589.5" font-size="8.8" fill="#666" textLength="29" lengthAdjust="spacingAndGlyphs" transform="rotate(20 175.4 589.5)">400000</text>
<line x1="190.2" y1="573.1" x2="192.7" y2="574.3" stroke="#444" stroke-width="1"/>
<text x="189" y="579.9" font-size="8.8" fill="#666" textLength="29" lengthAdjust="spacingAndGlyphs" transform="rotate(20 189 579.9)">600000</text>
<line x1="203" y1="564" x2="205.5" y2="565.2" stroke="#444" stroke-width="1"/>
<text x="201.8" y="570.8" font-size="8.8" fill="#666" textLength="29" lengthAdjust="spacingAndGlyphs" transform="rotate(20 201.8 570.8)">800000</text>
<text x="7" y="470" font-size="14.5" fill="#333" textLength="85" lengthAdjust="spacingAndGlyphs" transform="rotate(88 7 470)">CO<tspan font-size="10" dy="3">2</tspan><tspan dy="-3"> (BIFp)</tspan></text>
<text x="0" y="0" font-size="12" fill="#333" transform="matrix(0.818 0.437 -0.87 0.5 45.6 589.3)">H<tspan font-size="8.5" dy="3">2</tspan><tspan dy="-3">0 (BIFp)</tspan></text>
<text x="0" y="0" font-size="12.3" fill="#333" textLength="45" lengthAdjust="spacingAndGlyphs" transform="translate(187.5 623.5) rotate(-33) skewX(-22)">O<tspan font-size="8.5" dy="3">2</tspan><tspan dy="-3"> (BIFp)</tspan></text>
<rect x="56" y="431.2" width="12.7" height="8.2" fill="#97b9cf"/>
<text x="71.8" y="438.7" font-size="11" fill="#9fc0d6" text-anchor="start" textLength="31.2" lengthAdjust="spacingAndGlyphs">PAOM-1</text>
<rect x="56" y="448.7" width="12.7" height="8.2" fill="#4a82a8"/>
<text x="71.8" y="456.2" font-size="11" fill="#3d7ca4" text-anchor="start" textLength="31.2" lengthAdjust="spacingAndGlyphs">PAOM-2</text>
<rect x="56" y="466.2" width="12.7" height="8.2" fill="#dfa596"/>
<text x="71.8" y="473.7" font-size="11" fill="#e2a596" text-anchor="start" textLength="31.2" lengthAdjust="spacingAndGlyphs">PAOM-3</text>
<rect x="56" y="483.4" width="12.7" height="8.2" fill="#c4634e"/>
<text x="71.8" y="490.9" font-size="11" fill="#c4634e" text-anchor="start" textLength="31.2" lengthAdjust="spacingAndGlyphs">PAOM-4</text>
<rect x="107" y="416.6" width="12.8" height="8.2" fill="#8dc8c4"/>
<text x="122.2" y="424.2" font-size="10.3" fill="#111" text-anchor="start">PE</text>
<rect x="107" y="430.4" width="12.8" height="8.2" fill="#e6f4e6"/>
<text x="122.2" y="438" font-size="10.3" fill="#111" text-anchor="start">PET</text>
<rect x="107" y="443.8" width="12.8" height="8.2" fill="#fdb77a"/>
<text x="122.2" y="451.4" font-size="10.3" fill="#111" text-anchor="start">PP</text>
<rect x="107" y="457.4" width="12.8" height="8.2" fill="#c8e3b2"/>
<text x="122.2" y="465" font-size="10.3" fill="#111" text-anchor="start">PEF</text>
<rect x="107" y="470.9" width="12.8" height="8.2" fill="#ebe8bb"/>
<text x="122.2" y="478.5" font-size="10.3" fill="#111" text-anchor="start">PBAT</text>
<rect x="107" y="484.4" width="12.8" height="8.2" fill="#b8d2e8"/>
<text x="122.2" y="492" font-size="10.3" fill="#111" text-anchor="start">PLA</text>
<rect x="107" y="497.8" width="12.8" height="8.2" fill="#73a1ca"/>
<text x="122.2" y="505.4" font-size="10.3" fill="#111" text-anchor="start">PBF</text>
<path d="M271.3 408.8 H649.8 A34 34 0 0 1 683.8 442.8 V592.4 A34 34 0 0 1 649.8 626.4 H268.3 A34 34 0 0 1 234.3 592.4 V445.8 A37 37 0 0 1 271.3 408.8 Z" fill="#fff" stroke="#3a3a3a" stroke-width="1.5"/>
<rect x="242.4" y="436.5" width="44.6" height="71.5" fill="#f6f7f7"/>
<rect x="245" y="455.7" width="40.1" height="51.3" rx="3.5" fill="#fcfcfc" stroke="#c9cdd0" stroke-width="0.8"/>
<rect x="245.6" y="458.2" width="1.8" height="44.8" fill="#eaecee"/>
<rect x="282.7" y="458.2" width="1.8" height="44.8" fill="#eaecee"/>
<rect x="246.5" y="453.2" width="37.1" height="3.2" fill="#d6dadd"/>
<rect x="246" y="456.4" width="38.1" height="2.2" fill="#e8eaec"/>
<polygon points="268.4,460.3 281.4,460.8 270.6,505.2 259.2,504.7" fill="#e6d1b3"/>
<rect x="246" y="502.5" width="38.1" height="3.8" rx="2" fill="#dfe3e5" opacity="0.75"/>
<rect x="244.4" y="438.6" width="41.3" height="14.6" rx="1.8" fill="#1c2328"/>
<path d="M246.4 440.1 V451.2 M248.6 440.1 V451.2 M250.8 440.1 V451.2 M253 440.1 V451.2 M255.2 440.1 V451.2 M257.4 440.1 V451.2 M259.6 440.1 V451.2 M261.8 440.1 V451.2 M264 440.1 V451.2 M266.2 440.1 V451.2 M268.4 440.1 V451.2 M270.6 440.1 V451.2 M272.8 440.1 V451.2 M275 440.1 V451.2 M277.2 440.1 V451.2 M279.4 440.1 V451.2 M281.6 440.1 V451.2 M283.8 440.1 V451.2" stroke="#3a4348" stroke-width="0.5" opacity="0.55"/>
<rect x="245.2" y="451.4" width="39.7" height="1.0" fill="#4a545a" opacity="0.45"/>
<rect x="294.7" y="436.5" width="45.9" height="71.5" fill="#f6f7f7"/>
<rect x="296" y="456.7" width="39.1" height="50.3" rx="3.5" fill="#fcfcfc" stroke="#c9cdd0" stroke-width="0.8"/>
<rect x="296.6" y="459.2" width="1.8" height="43.8" fill="#eaecee"/>
<rect x="332.7" y="459.2" width="1.8" height="43.8" fill="#eaecee"/>
<rect x="297.5" y="454.2" width="36.1" height="3.2" fill="#d6dadd"/>
<rect x="297" y="457.4" width="37.1" height="2.2" fill="#e8eaec"/>
<polygon points="313,462 327,462 327,503.2 313,503.2" fill="#eee4d4"/>
<rect x="297" y="502.5" width="37.1" height="3.8" rx="2" fill="#dfe3e5" opacity="0.75"/>
<rect x="295.4" y="440.5" width="40.3" height="13.7" rx="1.8" fill="#222a30"/>
<path d="M297.4 442 V452.2 M299.6 442 V452.2 M301.8 442 V452.2 M304 442 V452.2 M306.2 442 V452.2 M308.4 442 V452.2 M310.6 442 V452.2 M312.8 442 V452.2 M315 442 V452.2 M317.2 442 V452.2 M319.4 442 V452.2 M321.6 442 V452.2 M323.8 442 V452.2 M326 442 V452.2 M328.2 442 V452.2 M330.4 442 V452.2 M332.6 442 V452.2" stroke="#3a4348" stroke-width="0.5" opacity="0.55"/>
<rect x="296.2" y="452.4" width="38.7" height="1.0" fill="#4a545a" opacity="0.45"/>
<rect x="349.8" y="436.5" width="45.7" height="71.5" fill="#f6f7f7"/>
<rect x="352.5" y="457.7" width="40.4" height="49.3" rx="3.5" fill="#fcfcfc" stroke="#c9cdd0" stroke-width="0.8"/>
<rect x="353.1" y="460.2" width="1.8" height="42.8" fill="#eaecee"/>
<rect x="390.5" y="460.2" width="1.8" height="42.8" fill="#eaecee"/>
<rect x="354" y="455.2" width="37.4" height="3.2" fill="#d6dadd"/>
<rect x="353.5" y="458.4" width="38.4" height="2.2" fill="#e8eaec"/>
<polygon points="363.4,461.2 379.4,461.2 381.3,506.5 365.3,506.5" fill="#e8d9bf"/>
<rect x="353.5" y="502.5" width="38.4" height="3.8" rx="2" fill="#dfe3e5" opacity="0.75"/>
<rect x="351.9" y="438.4" width="41.6" height="16.8" rx="1.8" fill="#1c2328"/>
<path d="M353.9 439.9 V453.2 M356.1 439.9 V453.2 M358.3 439.9 V453.2 M360.5 439.9 V453.2 M362.7 439.9 V453.2 M364.9 439.9 V453.2 M367.1 439.9 V453.2 M369.3 439.9 V453.2 M371.5 439.9 V453.2 M373.7 439.9 V453.2 M375.9 439.9 V453.2 M378.1 439.9 V453.2 M380.3 439.9 V453.2 M382.5 439.9 V453.2 M384.7 439.9 V453.2 M386.9 439.9 V453.2 M389.1 439.9 V453.2 M391.3 439.9 V453.2" stroke="#3a4348" stroke-width="0.5" opacity="0.55"/>
<rect x="352.7" y="453.4" width="40" height="1.0" fill="#4a545a" opacity="0.45"/>
<rect x="405.6" y="436.5" width="44.4" height="71.5" fill="#f6f7f7"/>
<rect x="407.6" y="455.3" width="39" height="51.7" rx="3.5" fill="#fcfcfc" stroke="#c9cdd0" stroke-width="0.8"/>
<rect x="408.2" y="457.8" width="1.8" height="45.2" fill="#eaecee"/>
<rect x="444.2" y="457.8" width="1.8" height="45.2" fill="#eaecee"/>
<rect x="409.1" y="452.8" width="36" height="3.2" fill="#d6dadd"/>
<rect x="408.6" y="456" width="37" height="2.2" fill="#e8eaec"/>
<polygon points="425.5,467 447,467.6 440,477 434,505.2 418,505.2" fill="#e3cdae"/>
<rect x="408.6" y="502.5" width="37" height="3.8" rx="2" fill="#dfe3e5" opacity="0.75"/>
<rect x="407" y="438.4" width="40.2" height="14.4" rx="1.8" fill="#1f282e"/>
<path d="M409 439.9 V450.8 M411.2 439.9 V450.8 M413.4 439.9 V450.8 M415.6 439.9 V450.8 M417.8 439.9 V450.8 M420 439.9 V450.8 M422.2 439.9 V450.8 M424.4 439.9 V450.8 M426.6 439.9 V450.8 M428.8 439.9 V450.8 M431 439.9 V450.8 M433.2 439.9 V450.8 M435.4 439.9 V450.8 M437.6 439.9 V450.8 M439.8 439.9 V450.8 M442 439.9 V450.8 M444.2 439.9 V450.8" stroke="#3a4348" stroke-width="0.5" opacity="0.55"/>
<rect x="407.8" y="451" width="38.6" height="1.0" fill="#4a545a" opacity="0.45"/>
<rect x="459" y="436.5" width="45.7" height="71.5" fill="#f6f7f7"/>
<rect x="460.6" y="456.2" width="40.8" height="50.8" rx="3.5" fill="#fcfcfc" stroke="#c9cdd0" stroke-width="0.8"/>
<rect x="461.2" y="458.7" width="1.8" height="44.3" fill="#eaecee"/>
<rect x="499" y="458.7" width="1.8" height="44.3" fill="#eaecee"/>
<rect x="462.1" y="453.7" width="37.8" height="3.2" fill="#d6dadd"/>
<rect x="461.6" y="456.9" width="38.8" height="2.2" fill="#e8eaec"/>
<polygon points="476.8,462 491.3,462 491.3,505.7 476.8,505.7" fill="#ece1cc"/>
<rect x="461.6" y="502.5" width="38.8" height="3.8" rx="2" fill="#dfe3e5" opacity="0.75"/>
<rect x="460" y="438.5" width="42" height="15.2" rx="1.8" fill="#222b31"/>
<path d="M462 440 V451.7 M464.2 440 V451.7 M466.4 440 V451.7 M468.6 440 V451.7 M470.8 440 V451.7 M473 440 V451.7 M475.2 440 V451.7 M477.4 440 V451.7 M479.6 440 V451.7 M481.8 440 V451.7 M484 440 V451.7 M486.2 440 V451.7 M488.4 440 V451.7 M490.6 440 V451.7 M492.8 440 V451.7 M495 440 V451.7 M497.2 440 V451.7 M499.4 440 V451.7" stroke="#3a4348" stroke-width="0.5" opacity="0.55"/>
<rect x="460.8" y="451.9" width="40.4" height="1.0" fill="#4a545a" opacity="0.45"/>
<rect x="512.8" y="436.5" width="44.6" height="71.5" fill="#f6f7f7"/>
<rect x="515.4" y="455.5" width="39" height="51.5" rx="3.5" fill="#fcfcfc" stroke="#c9cdd0" stroke-width="0.8"/>
<rect x="516" y="458" width="1.8" height="45" fill="#eaecee"/>
<rect x="552" y="458" width="1.8" height="45" fill="#eaecee"/>
<rect x="516.9" y="453" width="36" height="3.2" fill="#d6dadd"/>
<rect x="516.4" y="456.2" width="37" height="2.2" fill="#e8eaec"/>
<polygon points="523.8,462 537.3,462 542,505.7 528,505.7" fill="#ede3cf"/>
<rect x="516.4" y="502.5" width="37" height="3.8" rx="2" fill="#dfe3e5" opacity="0.75"/>
<rect x="514.8" y="438.5" width="40.2" height="14.5" rx="1.8" fill="#1c2328"/>
<path d="M516.8 440 V451 M519 440 V451 M521.2 440 V451 M523.4 440 V451 M525.6 440 V451 M527.8 440 V451 M530 440 V451 M532.2 440 V451 M534.4 440 V451 M536.6 440 V451 M538.8 440 V451 M541 440 V451 M543.2 440 V451 M545.4 440 V451 M547.6 440 V451 M549.8 440 V451 M552 440 V451" stroke="#3a4348" stroke-width="0.5" opacity="0.55"/>
<rect x="515.6" y="451.2" width="38.6" height="1.0" fill="#4a545a" opacity="0.45"/>
<rect x="569.2" y="436.5" width="45.3" height="71.5" fill="#f6f7f7"/>
<rect x="571.4" y="456.2" width="40.2" height="50.8" rx="3.5" fill="#fcfcfc" stroke="#c9cdd0" stroke-width="0.8"/>
<rect x="572" y="458.7" width="1.8" height="44.3" fill="#eaecee"/>
<rect x="609.2" y="458.7" width="1.8" height="44.3" fill="#eaecee"/>
<rect x="572.9" y="453.7" width="37.2" height="3.2" fill="#d6dadd"/>
<rect x="572.4" y="456.9" width="38.2" height="2.2" fill="#e8eaec"/>
<polygon points="589.3,460.4 604.4,462 596,505.7 582.6,505.7" fill="#e3cfb0"/>
<rect x="572.4" y="502.5" width="38.2" height="3.8" rx="2" fill="#dfe3e5" opacity="0.75"/>
<rect x="570.8" y="438.5" width="41.4" height="15.2" rx="1.8" fill="#222a30"/>
<path d="M572.8 440 V451.7 M575 440 V451.7 M577.2 440 V451.7 M579.4 440 V451.7 M581.6 440 V451.7 M583.8 440 V451.7 M586 440 V451.7 M588.2 440 V451.7 M590.4 440 V451.7 M592.6 440 V451.7 M594.8 440 V451.7 M597 440 V451.7 M599.2 440 V451.7 M601.4 440 V451.7 M603.6 440 V451.7 M605.8 440 V451.7 M608 440 V451.7 M610.2 440 V451.7" stroke="#3a4348" stroke-width="0.5" opacity="0.55"/>
<rect x="571.6" y="451.9" width="39.8" height="1.0" fill="#4a545a" opacity="0.45"/>
<rect x="624.6" y="436.5" width="42.6" height="71.5" fill="#f6f7f7"/>
<rect x="626.2" y="455.5" width="39.1" height="51.5" rx="3.5" fill="#fcfcfc" stroke="#c9cdd0" stroke-width="0.8"/>
<rect x="626.8" y="458" width="1.8" height="45" fill="#eaecee"/>
<rect x="662.9" y="458" width="1.8" height="45" fill="#eaecee"/>
<rect x="627.7" y="453" width="36.1" height="3.2" fill="#d6dadd"/>
<rect x="627.2" y="456.2" width="37.1" height="2.2" fill="#e8eaec"/>
<polygon points="645,463.7 660.5,463.7 658.5,504.7 643,504.7" fill="#eadfc8"/>
<rect x="627.2" y="502.5" width="37.1" height="3.8" rx="2" fill="#dfe3e5" opacity="0.75"/>
<rect x="625.6" y="440.2" width="40.3" height="12.8" rx="1.8" fill="#2c3b45"/>
<path d="M627.6 441.7 V451 M629.8 441.7 V451 M632 441.7 V451 M634.2 441.7 V451 M636.4 441.7 V451 M638.6 441.7 V451 M640.8 441.7 V451 M643 441.7 V451 M645.2 441.7 V451 M647.4 441.7 V451 M649.6 441.7 V451 M651.8 441.7 V451 M654 441.7 V451 M656.2 441.7 V451 M658.4 441.7 V451 M660.6 441.7 V451 M662.8 441.7 V451" stroke="#3a4348" stroke-width="0.5" opacity="0.55"/>
<rect x="626.4" y="451.2" width="38.7" height="1.0" fill="#4a545a" opacity="0.45"/>
<rect x="241.8" y="545" width="45.2" height="72.3" fill="#f6f7f7"/>
<rect x="244" y="564.4" width="40.8" height="51.9" rx="3.5" fill="#fcfcfc" stroke="#c9cdd0" stroke-width="0.8"/>
<rect x="244.6" y="566.9" width="1.8" height="45.4" fill="#eaecee"/>
<rect x="282.4" y="566.9" width="1.8" height="45.4" fill="#eaecee"/>
<rect x="245.5" y="561.9" width="37.8" height="3.2" fill="#d6dadd"/>
<rect x="245" y="565.1" width="38.8" height="2.2" fill="#e8eaec"/>
<polygon points="265.3,568.6 277,568.6 270.3,613.9 256.9,613.9" fill="#e6d2b5"/>
<rect x="245" y="611.8" width="38.8" height="3.8" rx="2" fill="#dfe3e5" opacity="0.75"/>
<rect x="243.4" y="546.8" width="42" height="15.1" rx="1.8" fill="#1c2328"/>
<path d="M245.4 548.3 V559.9 M247.6 548.3 V559.9 M249.8 548.3 V559.9 M252 548.3 V559.9 M254.2 548.3 V559.9 M256.4 548.3 V559.9 M258.6 548.3 V559.9 M260.8 548.3 V559.9 M263 548.3 V559.9 M265.2 548.3 V559.9 M267.4 548.3 V559.9 M269.6 548.3 V559.9 M271.8 548.3 V559.9 M274 548.3 V559.9 M276.2 548.3 V559.9 M278.4 548.3 V559.9 M280.6 548.3 V559.9 M282.8 548.3 V559.9" stroke="#3a4348" stroke-width="0.5" opacity="0.55"/>
<rect x="244.2" y="560.1" width="40.4" height="1.0" fill="#4a545a" opacity="0.45"/>
<rect x="294.5" y="545" width="44.6" height="72.3" fill="#f6f7f7"/>
<rect x="297.8" y="564.4" width="37.4" height="51.9" rx="3.5" fill="#fcfcfc" stroke="#c9cdd0" stroke-width="0.8"/>
<rect x="298.4" y="566.9" width="1.8" height="45.4" fill="#eaecee"/>
<rect x="332.8" y="566.9" width="1.8" height="45.4" fill="#eaecee"/>
<rect x="299.3" y="561.9" width="34.4" height="3.2" fill="#d6dadd"/>
<rect x="298.8" y="565.1" width="35.4" height="2.2" fill="#e8eaec"/>
<polygon points="310.6,568.6 324.7,568.6 324.7,612.9 310.6,612.9" fill="#ece3d0"/>
<rect x="298.8" y="611.8" width="35.4" height="3.8" rx="2" fill="#dfe3e5" opacity="0.75"/>
<rect x="297.2" y="547.8" width="38.6" height="14.1" rx="1.8" fill="#1f282e"/>
<path d="M299.2 549.3 V559.9 M301.4 549.3 V559.9 M303.6 549.3 V559.9 M305.8 549.3 V559.9 M308 549.3 V559.9 M310.2 549.3 V559.9 M312.4 549.3 V559.9 M314.6 549.3 V559.9 M316.8 549.3 V559.9 M319 549.3 V559.9 M321.2 549.3 V559.9 M323.4 549.3 V559.9 M325.6 549.3 V559.9 M327.8 549.3 V559.9 M330 549.3 V559.9 M332.2 549.3 V559.9" stroke="#3a4348" stroke-width="0.5" opacity="0.55"/>
<rect x="298" y="560.1" width="37" height="1.0" fill="#4a545a" opacity="0.45"/>
<rect x="349.2" y="545" width="48" height="72.3" fill="#f6f7f7"/>
<rect x="352.2" y="564.4" width="41.7" height="51.9" rx="3.5" fill="#fcfcfc" stroke="#c9cdd0" stroke-width="0.8"/>
<rect x="352.8" y="566.9" width="1.8" height="45.4" fill="#eaecee"/>
<rect x="391.5" y="566.9" width="1.8" height="45.4" fill="#eaecee"/>
<rect x="353.7" y="561.9" width="38.7" height="3.2" fill="#d6dadd"/>
<rect x="353.2" y="565.1" width="39.7" height="2.2" fill="#e8eaec"/>
<polygon points="363.6,570.3 379.4,570.3 379.4,614.9 363.6,614.9" fill="#e8d8bd"/>
<rect x="353.2" y="611.8" width="39.7" height="3.8" rx="2" fill="#dfe3e5" opacity="0.75"/>
<rect x="351.6" y="546.8" width="42.9" height="15.1" rx="1.8" fill="#1c2328"/>
<path d="M353.6 548.3 V559.9 M355.8 548.3 V559.9 M358 548.3 V559.9 M360.2 548.3 V559.9 M362.4 548.3 V559.9 M364.6 548.3 V559.9 M366.8 548.3 V559.9 M369 548.3 V559.9 M371.2 548.3 V559.9 M373.4 548.3 V559.9 M375.6 548.3 V559.9 M377.8 548.3 V559.9 M380 548.3 V559.9 M382.2 548.3 V559.9 M384.4 548.3 V559.9 M386.6 548.3 V559.9 M388.8 548.3 V559.9 M391 548.3 V559.9" stroke="#3a4348" stroke-width="0.5" opacity="0.55"/>
<rect x="352.4" y="560.1" width="41.3" height="1.0" fill="#4a545a" opacity="0.45"/>
<rect x="404" y="545" width="46" height="72.3" fill="#f6f7f7"/>
<rect x="407.9" y="562.7" width="39.8" height="53.6" rx="3.5" fill="#fcfcfc" stroke="#c9cdd0" stroke-width="0.8"/>
<rect x="408.5" y="565.2" width="1.8" height="47.1" fill="#eaecee"/>
<rect x="445.3" y="565.2" width="1.8" height="47.1" fill="#eaecee"/>
<rect x="409.4" y="560.2" width="36.8" height="3.2" fill="#d6dadd"/>
<rect x="408.9" y="563.4" width="37.8" height="2.2" fill="#e8eaec"/>
<polygon points="428,568 442.2,568 430.8,612.9 416.4,612.9" fill="#e5d2b6"/>
<rect x="408.9" y="611.8" width="37.8" height="3.8" rx="2" fill="#dfe3e5" opacity="0.75"/>
<rect x="407.3" y="546" width="41" height="14.2" rx="1.8" fill="#1c2328"/>
<path d="M409.3 547.5 V558.2 M411.5 547.5 V558.2 M413.7 547.5 V558.2 M415.9 547.5 V558.2 M418.1 547.5 V558.2 M420.3 547.5 V558.2 M422.5 547.5 V558.2 M424.7 547.5 V558.2 M426.9 547.5 V558.2 M429.1 547.5 V558.2 M431.3 547.5 V558.2 M433.5 547.5 V558.2 M435.7 547.5 V558.2 M437.9 547.5 V558.2 M440.1 547.5 V558.2 M442.3 547.5 V558.2 M444.5 547.5 V558.2 M446.7 547.5 V558.2" stroke="#3a4348" stroke-width="0.5" opacity="0.55"/>
<rect x="408.1" y="558.4" width="39.4" height="1.0" fill="#4a545a" opacity="0.45"/>
<rect x="458.4" y="545" width="45.3" height="72.3" fill="#f6f7f7"/>
<rect x="460.6" y="563.7" width="40.1" height="52.6" rx="3.5" fill="#fcfcfc" stroke="#c9cdd0" stroke-width="0.8"/>
<rect x="461.2" y="566.2" width="1.8" height="46.1" fill="#eaecee"/>
<rect x="498.3" y="566.2" width="1.8" height="46.1" fill="#eaecee"/>
<rect x="462.1" y="561.2" width="37.1" height="3.2" fill="#d6dadd"/>
<rect x="461.6" y="564.4" width="38.1" height="2.2" fill="#e8eaec"/>
<polygon points="475.8,568.6 490.3,568.6 490.3,614.9 475.8,614.9" fill="#ebe0c8"/>
<rect x="461.6" y="611.8" width="38.1" height="3.8" rx="2" fill="#dfe3e5" opacity="0.75"/>
<rect x="460" y="546.8" width="41.3" height="14.4" rx="1.8" fill="#222b31"/>
<path d="M462 548.3 V559.2 M464.2 548.3 V559.2 M466.4 548.3 V559.2 M468.6 548.3 V559.2 M470.8 548.3 V559.2 M473 548.3 V559.2 M475.2 548.3 V559.2 M477.4 548.3 V559.2 M479.6 548.3 V559.2 M481.8 548.3 V559.2 M484 548.3 V559.2 M486.2 548.3 V559.2 M488.4 548.3 V559.2 M490.6 548.3 V559.2 M492.8 548.3 V559.2 M495 548.3 V559.2 M497.2 548.3 V559.2 M499.4 548.3 V559.2" stroke="#3a4348" stroke-width="0.5" opacity="0.55"/>
<rect x="460.8" y="559.4" width="39.7" height="1.0" fill="#4a545a" opacity="0.45"/>
<rect x="512.8" y="545" width="44.6" height="72.3" fill="#f6f7f7"/>
<rect x="516" y="563.7" width="39.1" height="52.6" rx="3.5" fill="#fcfcfc" stroke="#c9cdd0" stroke-width="0.8"/>
<rect x="516.6" y="566.2" width="1.8" height="46.1" fill="#eaecee"/>
<rect x="552.7" y="566.2" width="1.8" height="46.1" fill="#eaecee"/>
<rect x="517.5" y="561.2" width="36.1" height="3.2" fill="#d6dadd"/>
<rect x="517" y="564.4" width="37.1" height="2.2" fill="#e8eaec"/>
<polygon points="535.6,568 549.7,568 543,612.9 529.5,612.9" fill="#ece4cf"/>
<rect x="517" y="611.8" width="37.1" height="3.8" rx="2" fill="#dfe3e5" opacity="0.75"/>
<rect x="515.4" y="546" width="40.3" height="15.2" rx="1.8" fill="#161c20"/>
<path d="M517.4 547.5 V559.2 M519.6 547.5 V559.2 M521.8 547.5 V559.2 M524 547.5 V559.2 M526.2 547.5 V559.2 M528.4 547.5 V559.2 M530.6 547.5 V559.2 M532.8 547.5 V559.2 M535 547.5 V559.2 M537.2 547.5 V559.2 M539.4 547.5 V559.2 M541.6 547.5 V559.2 M543.8 547.5 V559.2 M546 547.5 V559.2 M548.2 547.5 V559.2 M550.4 547.5 V559.2 M552.6 547.5 V559.2" stroke="#3a4348" stroke-width="0.5" opacity="0.55"/>
<rect x="516.2" y="559.4" width="38.7" height="1.0" fill="#4a545a" opacity="0.45"/>
<rect x="567.5" y="545" width="46" height="72.3" fill="#f6f7f7"/>
<rect x="570.4" y="565" width="40.1" height="51.3" rx="3.5" fill="#fcfcfc" stroke="#c9cdd0" stroke-width="0.8"/>
<rect x="571" y="567.5" width="1.8" height="44.8" fill="#eaecee"/>
<rect x="608.1" y="567.5" width="1.8" height="44.8" fill="#eaecee"/>
<rect x="571.9" y="562.5" width="37.1" height="3.2" fill="#d6dadd"/>
<rect x="571.4" y="565.7" width="38.1" height="2.2" fill="#e8eaec"/>
<polygon points="576.6,570.3 592.7,570.3 597.7,612.9 582.6,612.9" fill="#e6d6bc"/>
<rect x="571.4" y="611.8" width="38.1" height="3.8" rx="2" fill="#dfe3e5" opacity="0.75"/>
<rect x="569.8" y="547.8" width="41.3" height="14.7" rx="1.8" fill="#1f282e"/>
<path d="M571.8 549.3 V560.5 M574 549.3 V560.5 M576.2 549.3 V560.5 M578.4 549.3 V560.5 M580.6 549.3 V560.5 M582.8 549.3 V560.5 M585 549.3 V560.5 M587.2 549.3 V560.5 M589.4 549.3 V560.5 M591.6 549.3 V560.5 M593.8 549.3 V560.5 M596 549.3 V560.5 M598.2 549.3 V560.5 M600.4 549.3 V560.5 M602.6 549.3 V560.5 M604.8 549.3 V560.5 M607 549.3 V560.5 M609.2 549.3 V560.5" stroke="#3a4348" stroke-width="0.5" opacity="0.55"/>
<rect x="570.6" y="560.7" width="39.7" height="1.0" fill="#4a545a" opacity="0.45"/>
<rect x="622.9" y="545" width="45.3" height="72.3" fill="#f6f7f7"/>
<rect x="626.2" y="564.4" width="39.8" height="51.9" rx="3.5" fill="#fcfcfc" stroke="#c9cdd0" stroke-width="0.8"/>
<rect x="626.8" y="566.9" width="1.8" height="45.4" fill="#eaecee"/>
<rect x="663.6" y="566.9" width="1.8" height="45.4" fill="#eaecee"/>
<rect x="627.7" y="561.9" width="36.8" height="3.2" fill="#d6dadd"/>
<rect x="627.2" y="565.1" width="37.8" height="2.2" fill="#e8eaec"/>
<polygon points="648.1,572 661.5,572 654.8,613.9 641.4,613.9" fill="#e9dcc3"/>
<rect x="627.2" y="611.8" width="37.8" height="3.8" rx="2" fill="#dfe3e5" opacity="0.75"/>
<rect x="625.6" y="548.4" width="41" height="13.5" rx="1.8" fill="#2a3740"/>
<path d="M627.6 549.9 V559.9 M629.8 549.9 V559.9 M632 549.9 V559.9 M634.2 549.9 V559.9 M636.4 549.9 V559.9 M638.6 549.9 V559.9 M640.8 549.9 V559.9 M643 549.9 V559.9 M645.2 549.9 V559.9 M647.4 549.9 V559.9 M649.6 549.9 V559.9 M651.8 549.9 V559.9 M654 549.9 V559.9 M656.2 549.9 V559.9 M658.4 549.9 V559.9 M660.6 549.9 V559.9 M662.8 549.9 V559.9 M665 549.9 V559.9" stroke="#3a4348" stroke-width="0.5" opacity="0.55"/>
<rect x="626.4" y="560.1" width="39.4" height="1.0" fill="#4a545a" opacity="0.45"/>
<text x="275.8" y="428.3" font-size="15.5" fill="#333" text-anchor="middle">Toluene</text>
<text x="318.3" y="430" font-size="15.5" fill="#333" text-anchor="middle">HCl</text>
<text x="370.7" y="428.5" font-size="15.5" fill="#333" text-anchor="middle">ACE</text>
<text x="425.6" y="429" font-size="15.5" fill="#333" text-anchor="middle">MeOH</text>
<text x="480.2" y="430.1" font-size="15.5" fill="#333" text-anchor="middle">NaOH</text>
<text x="535.6" y="430" font-size="15.5" fill="#333" text-anchor="middle">THF</text>
<text x="587.6" y="430" font-size="15.5" fill="#333" text-anchor="middle">DMF</text>
<text x="644.3" y="428.5" font-size="15.5" fill="#333" text-anchor="middle">EtOH</text>
<path d="M415.3 512 L494.7 512 Q470 514 465.8 530.5 L482.7 529.4 L455.4 544.2 L427.3 529.7 L442.6 530.5 Q438 514 415.3 512 Z" fill="url(#bigarr)"/>
<text x="398.8" y="532.1" font-size="17.8" fill="#333" text-anchor="middle">After</text>
<text x="522.5" y="532.1" font-size="18" fill="#333" text-anchor="middle">7 days</text>
<path d="M46.8 801.89 L48.37 801.89 L49.95 801.89 L51.52 801.89 L53.09 801.89 L54.66 801.89 L56.24 801.89 L57.81 801.89 L59.38 801.89 L60.96 801.89 L62.53 801.89 L64.1 801.89 L65.68 801.89 L67.25 801.88 L68.82 801.88 L70.39 801.88 L71.97 801.88 L73.54 801.87 L75.11 801.86 L76.69 801.85 L78.26 801.84 L79.83 801.82 L81.41 801.79 L82.98 801.75 L84.55 801.69 L86.12 801.61 L87.7 801.49 L89.27 801.31 L89.59 801.27 L89.9 801.22 L90.21 801.17 L90.53 801.11 L90.84 801.05 L91.16 800.98 L91.47 800.9 L91.79 800.82 L92.1 800.73 L92.42 800.62 L92.73 800.51 L93.05 800.39 L93.36 800.25 L93.68 800.09 L93.99 799.91 L94.3 799.71 L94.62 799.49 L94.93 799.23 L95.25 798.93 L95.56 798.6 L95.88 798.21 L96.19 797.77 L96.51 797.26 L96.82 796.67 L97.14 795.98 L97.45 795.19 L97.77 794.28 L98.08 793.57 L98.39 792.82 L98.71 791.99 L99.02 791.06 L99.34 790.03 L99.65 788.9 L99.97 787.65 L100.28 786.28 L100.6 784.78 L100.91 783.14 L101.23 781.36 L101.54 779.42 L101.85 777.34 L102.17 775.09 L102.48 772.68 L102.8 770.11 L103.11 767.38 L103.43 764.49 L103.74 761.44 L104.06 758.24 L104.37 754.9 L104.69 751.43 L105 747.84 L105.32 744.14 L105.63 740.36 L105.94 736.51 L106.26 732.62 L106.57 728.71 L106.89 724.81 L107.2 720.94 L107.52 717.15 L107.83 713.46 L108.15 709.91 L108.46 706.54 L108.78 703.38 L109.09 700.48 L109.41 697.86 L109.72 695.58 L110.03 693.66 L110.35 692.13 L110.66 691.02 L110.98 690.35 L111.29 690.12 L111.61 690.48 L111.92 691.54 L112.24 693.28 L112.55 695.65 L112.87 698.59 L113.18 702.03 L113.5 705.91 L113.81 710.13 L114.12 714.64 L114.44 719.34 L114.75 724.18 L115.07 729.09 L115.38 734 L115.7 738.88 L116.01 743.66 L116.33 748.31 L116.64 752.79 L116.96 757.07 L117.27 761.14 L117.58 764.96 L117.9 768.54 L118.21 771.87 L118.53 774.94 L118.84 777.75 L119.16 780.32 L119.47 782.64 L119.79 784.73 L120.1 786.6 L120.42 788.27 L120.73 789.75 L121.05 791.06 L121.36 792.21 L121.67 793.22 L121.99 794.1 L122.3 795.22 L122.62 796.19 L122.93 797 L123.25 797.67 L123.56 798.24 L123.88 798.71 L124.19 799.11 L124.51 799.45 L124.82 799.73 L125.14 799.98 L125.45 800.19 L125.76 800.37 L126.08 800.53 L126.39 800.66 L126.71 800.79 L127.02 800.89 L127.34 800.99 L127.65 801.07 L127.97 801.15 L128.28 801.22 L128.6 801.28 L128.91 801.33 L129.23 801.38 L129.54 801.42 L129.85 801.46 L130.17 801.5 L130.48 801.53 L130.8 801.57 L131.11 801.59 L131.43 801.62 L131.74 801.64 L132.06 801.66 L132.37 801.68 L132.69 801.7 L133 801.71 L133.31 801.73 L133.63 801.74 L133.94 801.75 L134.26 801.76 L134.57 801.77 L134.89 801.78 L136.46 801.82 L138.03 801.84 L139.61 801.86 L141.18 801.87 L142.75 801.88 L144.33 801.88 L145.9 801.88 L147.47 801.89 L149.04 801.89 L150.62 801.89 L152.19 801.89 L153.76 801.89 L155.34 801.89 L156.91 801.89 L158.48 801.89 L160.06 801.89 L161.63 801.89 L163.2 801.89 L164.77 801.89 L166.35 801.89 L167.92 801.89 L169.49 801.89 L171.07 801.89 L172.64 801.89 L174.21 801.89 L175.79 801.89 L177.36 801.89 L178.93 801.89 L180.5 801.89 L182.08 801.89 L183.65 801.89 L185.22 801.89 L186.8 801.89 L188.37 801.89 L189.94 801.89 L191.52 801.89 L193.09 801.89 L194.66 801.89 L196.24 801.89 L197.81 801.89 L199.38 801.89 L200.95 801.89 L202.53 801.89 L204.1 801.89" fill="none" stroke="#9dc0d4" stroke-width="2.8" stroke-linejoin="round"/>
<path d="M46.8 801.89 L48.37 801.89 L49.95 801.89 L51.52 801.89 L53.09 801.89 L54.66 801.89 L56.24 801.89 L57.81 801.89 L59.38 801.89 L60.96 801.89 L62.53 801.89 L64.1 801.89 L65.68 801.89 L67.25 801.89 L68.82 801.89 L70.39 801.88 L71.97 801.88 L73.54 801.88 L75.11 801.87 L76.69 801.87 L78.26 801.86 L79.83 801.84 L81.41 801.83 L82.98 801.8 L84.55 801.76 L86.12 801.71 L87.7 801.62 L89.27 801.51 L89.59 801.48 L89.9 801.44 L90.21 801.41 L90.53 801.37 L90.84 801.33 L91.16 801.28 L91.47 801.23 L91.79 801.18 L92.1 801.12 L92.42 801.05 L92.73 800.98 L93.05 800.9 L93.36 800.81 L93.68 800.72 L93.99 800.61 L94.3 800.49 L94.62 800.35 L94.93 800.2 L95.25 800.03 L95.56 799.84 L95.88 799.62 L96.19 799.37 L96.51 799.08 L96.82 798.75 L97.14 798.36 L97.45 797.92 L97.77 797.4 L98.08 796.81 L98.39 796.11 L98.71 795.3 L99.02 794.35 L99.34 793.53 L99.65 792.74 L99.97 791.85 L100.28 790.86 L100.6 789.75 L100.91 788.53 L101.23 787.17 L101.54 785.67 L101.85 784.02 L102.17 782.22 L102.48 780.24 L102.8 778.1 L103.11 775.78 L103.43 773.28 L103.74 770.6 L104.06 767.73 L104.37 764.68 L104.69 761.45 L105 758.05 L105.32 754.49 L105.63 750.77 L105.94 746.93 L106.26 742.96 L106.57 738.89 L106.89 734.75 L107.2 730.57 L107.52 726.37 L107.83 722.19 L108.15 718.06 L108.46 714.02 L108.78 710.12 L109.09 706.4 L109.41 702.89 L109.72 699.66 L110.03 696.74 L110.35 694.18 L110.66 692.03 L110.98 690.3 L111.29 689.05 L111.61 688.29 L111.92 688.03 L112.24 688.48 L112.55 689.8 L112.87 691.96 L113.18 694.88 L113.5 698.48 L113.81 702.65 L114.12 707.31 L114.44 712.33 L114.75 717.62 L115.07 723.08 L115.38 728.62 L115.7 734.16 L116.01 739.62 L116.33 744.95 L116.64 750.1 L116.96 755.01 L117.27 759.65 L117.58 764 L117.9 768.05 L118.21 771.77 L118.53 775.17 L118.84 778.26 L119.16 781.04 L119.47 783.52 L119.79 785.73 L120.1 787.67 L120.42 789.37 L120.73 790.86 L121.05 792.15 L121.36 793.26 L121.67 794.31 L121.99 795.54 L122.3 796.54 L122.62 797.36 L122.93 798.04 L123.25 798.59 L123.56 799.04 L123.88 799.42 L124.19 799.74 L124.51 800.01 L124.82 800.23 L125.14 800.42 L125.45 800.59 L125.76 800.73 L126.08 800.86 L126.39 800.96 L126.71 801.06 L127.02 801.14 L127.34 801.22 L127.65 801.28 L127.97 801.34 L128.28 801.4 L128.6 801.44 L128.91 801.49 L129.23 801.52 L129.54 801.56 L129.85 801.59 L130.17 801.62 L130.48 801.64 L130.8 801.67 L131.11 801.69 L131.43 801.7 L131.74 801.72 L132.06 801.74 L132.37 801.75 L132.69 801.76 L133 801.77 L133.31 801.78 L133.63 801.79 L133.94 801.8 L134.26 801.81 L134.57 801.82 L134.89 801.82 L136.46 801.85 L138.03 801.86 L139.61 801.87 L141.18 801.88 L142.75 801.88 L144.33 801.89 L145.9 801.89 L147.47 801.89 L149.04 801.89 L150.62 801.89 L152.19 801.89 L153.76 801.89 L155.34 801.89 L156.91 801.89 L158.48 801.89 L160.06 801.89 L161.63 801.89 L163.2 801.89 L164.77 801.89 L166.35 801.89 L167.92 801.89 L169.49 801.89 L171.07 801.89 L172.64 801.89 L174.21 801.89 L175.79 801.89 L177.36 801.89 L178.93 801.89 L180.5 801.89 L182.08 801.89 L183.65 801.89 L185.22 801.89 L186.8 801.89 L188.37 801.89 L189.94 801.89 L191.52 801.89 L193.09 801.89 L194.66 801.89 L196.24 801.89 L197.81 801.89 L199.38 801.89 L200.95 801.89 L202.53 801.89 L204.1 801.89" fill="none" stroke="#3f7ea5" stroke-width="1.9" stroke-linejoin="round"/>
<path d="M46.8 801.89 L48.37 801.89 L49.95 801.89 L51.52 801.89 L53.09 801.89 L54.66 801.89 L56.24 801.89 L57.81 801.89 L59.38 801.89 L60.96 801.88 L62.53 801.88 L64.1 801.88 L65.68 801.88 L67.25 801.87 L68.82 801.87 L70.39 801.86 L71.97 801.85 L73.54 801.84 L75.11 801.82 L76.69 801.8 L78.26 801.76 L79.83 801.72 L81.41 801.65 L82.98 801.57 L84.55 801.45 L86.12 801.27 L87.7 801.02 L89.27 800.63 L89.59 800.53 L89.9 800.42 L90.21 800.29 L90.53 800.15 L90.84 800 L91.16 799.83 L91.47 799.63 L91.79 799.41 L92.1 799.17 L92.42 798.89 L92.73 798.58 L93.05 798.23 L93.36 797.83 L93.68 797.37 L93.99 796.85 L94.3 796.26 L94.62 795.59 L94.93 794.94 L95.25 794.4 L95.56 793.8 L95.88 793.14 L96.19 792.42 L96.51 791.63 L96.82 790.77 L97.14 789.82 L97.45 788.8 L97.77 787.69 L98.08 786.48 L98.39 785.18 L98.71 783.78 L99.02 782.28 L99.34 780.67 L99.65 778.96 L99.97 777.13 L100.28 775.19 L100.6 773.14 L100.91 770.98 L101.23 768.71 L101.54 766.33 L101.85 763.85 L102.17 761.27 L102.48 758.6 L102.8 755.84 L103.11 753.01 L103.43 750.12 L103.74 747.17 L104.06 744.18 L104.37 741.16 L104.69 738.12 L105 735.1 L105.32 732.09 L105.63 729.13 L105.94 726.23 L106.26 723.41 L106.57 720.7 L106.89 718.11 L107.2 715.68 L107.52 713.42 L107.83 711.36 L108.15 709.52 L108.46 707.93 L108.78 706.59 L109.09 705.53 L109.41 704.77 L109.72 704.3 L110.03 704.15 L110.35 704.37 L110.66 705.02 L110.98 706.1 L111.29 707.58 L111.61 709.43 L111.92 711.63 L112.24 714.13 L112.55 716.91 L112.87 719.91 L113.18 723.11 L113.5 726.46 L113.81 729.92 L114.12 733.47 L114.44 737.06 L114.75 740.67 L115.07 744.26 L115.38 747.81 L115.7 751.3 L116.01 754.71 L116.33 758.01 L116.64 761.2 L116.96 764.26 L117.27 767.18 L117.58 769.95 L117.9 772.56 L118.21 775.03 L118.53 777.33 L118.84 779.48 L119.16 781.47 L119.47 783.31 L119.79 785 L120.1 786.55 L120.42 787.97 L120.73 789.25 L121.05 790.42 L121.36 791.47 L121.67 792.42 L121.99 793.27 L122.3 794.03 L122.62 794.71 L122.93 795.42 L123.25 796.23 L123.56 796.93 L123.88 797.53 L124.19 798.04 L124.51 798.48 L124.82 798.86 L125.14 799.19 L125.45 799.48 L125.76 799.72 L126.08 799.94 L126.39 800.13 L126.71 800.3 L127.02 800.44 L127.34 800.57 L127.65 800.69 L127.97 800.79 L128.28 800.88 L128.6 800.97 L128.91 801.04 L129.23 801.11 L129.54 801.17 L129.85 801.23 L130.17 801.28 L130.48 801.32 L130.8 801.37 L131.11 801.41 L131.43 801.44 L131.74 801.48 L132.06 801.51 L132.37 801.53 L132.69 801.56 L133 801.58 L133.31 801.61 L133.63 801.63 L133.94 801.65 L134.26 801.66 L134.57 801.68 L134.89 801.69 L136.46 801.75 L138.03 801.79 L139.61 801.82 L141.18 801.84 L142.75 801.86 L144.33 801.87 L145.9 801.87 L147.47 801.88 L149.04 801.88 L150.62 801.88 L152.19 801.89 L153.76 801.89 L155.34 801.89 L156.91 801.89 L158.48 801.89 L160.06 801.89 L161.63 801.89 L163.2 801.89 L164.77 801.89 L166.35 801.89 L167.92 801.89 L169.49 801.89 L171.07 801.89 L172.64 801.89 L174.21 801.89 L175.79 801.89 L177.36 801.89 L178.93 801.89 L180.5 801.89 L182.08 801.89 L183.65 801.89 L185.22 801.89 L186.8 801.89 L188.37 801.89 L189.94 801.89 L191.52 801.89 L193.09 801.89 L194.66 801.89 L196.24 801.89 L197.81 801.89 L199.38 801.89 L200.95 801.89 L202.53 801.89 L204.1 801.89" fill="none" stroke="#e0a898" stroke-width="2.6" stroke-linejoin="round"/>
<path d="M46.8 801.89 L48.37 801.89 L49.95 801.89 L51.52 801.89 L53.09 801.89 L54.66 801.89 L56.24 801.89 L57.81 801.89 L59.38 801.88 L60.96 801.88 L62.53 801.88 L64.1 801.88 L65.68 801.87 L67.25 801.87 L68.82 801.86 L70.39 801.85 L71.97 801.84 L73.54 801.82 L75.11 801.8 L76.69 801.77 L78.26 801.73 L79.83 801.68 L81.41 801.6 L82.98 801.5 L84.55 801.35 L86.12 801.14 L87.7 800.82 L89.27 800.32 L89.59 800.19 L89.9 800.04 L90.21 799.88 L90.53 799.7 L90.84 799.49 L91.16 799.26 L91.47 799 L91.79 798.71 L92.1 798.38 L92.42 798.01 L92.73 797.58 L93.05 797.11 L93.36 796.56 L93.68 795.95 L93.99 795.25 L94.3 794.74 L94.62 794.19 L94.93 793.58 L95.25 792.92 L95.56 792.19 L95.88 791.39 L96.19 790.53 L96.51 789.59 L96.82 788.57 L97.14 787.46 L97.45 786.27 L97.77 784.99 L98.08 783.61 L98.39 782.13 L98.71 780.55 L99.02 778.87 L99.34 777.08 L99.65 775.19 L99.97 773.2 L100.28 771.1 L100.6 768.9 L100.91 766.59 L101.23 764.2 L101.54 761.71 L101.85 759.13 L102.17 756.47 L102.48 753.75 L102.8 750.96 L103.11 748.12 L103.43 745.24 L103.74 742.33 L104.06 739.41 L104.37 736.5 L104.69 733.6 L105 730.73 L105.32 727.93 L105.63 725.19 L105.94 722.56 L106.26 720.03 L106.57 717.65 L106.89 715.42 L107.2 713.37 L107.52 711.52 L107.83 709.9 L108.15 708.51 L108.46 707.38 L108.78 706.52 L109.09 705.94 L109.41 705.65 L109.72 705.67 L110.03 706.13 L110.35 707.03 L110.66 708.36 L110.98 710.09 L111.29 712.19 L111.61 714.63 L111.92 717.36 L112.24 720.34 L112.55 723.53 L112.87 726.89 L113.18 730.38 L113.5 733.96 L113.81 737.59 L114.12 741.24 L114.44 744.88 L114.75 748.48 L115.07 752.01 L115.38 755.46 L115.7 758.8 L116.01 762.02 L116.33 765.11 L116.64 768.04 L116.96 770.83 L117.27 773.45 L117.58 775.92 L117.9 778.21 L118.21 780.35 L118.53 782.32 L118.84 784.14 L119.16 785.8 L119.47 787.32 L119.79 788.7 L120.1 789.95 L120.42 791.08 L120.73 792.09 L121.05 793 L121.36 793.82 L121.67 794.54 L121.99 795.19 L122.3 796.03 L122.62 796.77 L122.93 797.41 L123.25 797.96 L123.56 798.42 L123.88 798.82 L124.19 799.17 L124.51 799.46 L124.82 799.72 L125.14 799.94 L125.45 800.14 L125.76 800.31 L126.08 800.46 L126.39 800.59 L126.71 800.71 L127.02 800.81 L127.34 800.9 L127.65 800.99 L127.97 801.06 L128.28 801.13 L128.6 801.19 L128.91 801.25 L129.23 801.3 L129.54 801.34 L129.85 801.39 L130.17 801.43 L130.48 801.46 L130.8 801.49 L131.11 801.52 L131.43 801.55 L131.74 801.58 L132.06 801.6 L132.37 801.62 L132.69 801.64 L133 801.66 L133.31 801.68 L133.63 801.69 L133.94 801.71 L134.26 801.72 L134.57 801.73 L134.89 801.74 L136.46 801.79 L138.03 801.82 L139.61 801.84 L141.18 801.86 L142.75 801.87 L144.33 801.87 L145.9 801.88 L147.47 801.88 L149.04 801.88 L150.62 801.89 L152.19 801.89 L153.76 801.89 L155.34 801.89 L156.91 801.89 L158.48 801.89 L160.06 801.89 L161.63 801.89 L163.2 801.89 L164.77 801.89 L166.35 801.89 L167.92 801.89 L169.49 801.89 L171.07 801.89 L172.64 801.89 L174.21 801.89 L175.79 801.89 L177.36 801.89 L178.93 801.89 L180.5 801.89 L182.08 801.89 L183.65 801.89 L185.22 801.89 L186.8 801.89 L188.37 801.89 L189.94 801.89 L191.52 801.89 L193.09 801.89 L194.66 801.89 L196.24 801.89 L197.81 801.89 L199.38 801.89 L200.95 801.89 L202.53 801.89 L204.1 801.89" fill="none" stroke="#c8644f" stroke-width="2.6" stroke-linejoin="round"/>
<rect x="47" y="676.3" width="157.2" height="127.8" fill="none" stroke="#8a8a8a" stroke-width="1.4"/>
<line x1="47" y1="804.1" x2="204.2" y2="804.1" stroke="#555" stroke-width="1.2"/>
<line x1="47" y1="675.8" x2="47" y2="804.1" stroke="#9a9a9a" stroke-width="1.9"/>
<line x1="44" y1="802.1" x2="47" y2="802.1" stroke="#555" stroke-width="1"/>
<text x="42" y="806.06" font-size="11" fill="#4a4a4a" text-anchor="end">0</text>
<line x1="44" y1="781.17" x2="47" y2="781.17" stroke="#555" stroke-width="1"/>
<text x="42" y="785.13" font-size="11" fill="#4a4a4a" text-anchor="end">100</text>
<line x1="44" y1="760.24" x2="47" y2="760.24" stroke="#555" stroke-width="1"/>
<text x="42" y="764.2" font-size="11" fill="#4a4a4a" text-anchor="end">200</text>
<line x1="44" y1="739.31" x2="47" y2="739.31" stroke="#555" stroke-width="1"/>
<text x="42" y="743.27" font-size="11" fill="#4a4a4a" text-anchor="end">300</text>
<line x1="44" y1="718.38" x2="47" y2="718.38" stroke="#555" stroke-width="1"/>
<text x="42" y="722.34" font-size="11" fill="#4a4a4a" text-anchor="end">400</text>
<line x1="44" y1="697.45" x2="47" y2="697.45" stroke="#555" stroke-width="1"/>
<text x="42" y="701.41" font-size="11" fill="#4a4a4a" text-anchor="end">500</text>
<line x1="44" y1="676.52" x2="47" y2="676.52" stroke="#555" stroke-width="1"/>
<text x="42" y="680.48" font-size="11" fill="#4a4a4a" text-anchor="end">600</text>
<line x1="45.2" y1="791.63" x2="47" y2="791.63" stroke="#555" stroke-width="1"/>
<line x1="45.2" y1="770.71" x2="47" y2="770.71" stroke="#555" stroke-width="1"/>
<line x1="45.2" y1="749.77" x2="47" y2="749.77" stroke="#555" stroke-width="1"/>
<line x1="45.2" y1="728.85" x2="47" y2="728.85" stroke="#555" stroke-width="1"/>
<line x1="45.2" y1="707.91" x2="47" y2="707.91" stroke="#555" stroke-width="1"/>
<line x1="45.2" y1="686.99" x2="47" y2="686.99" stroke="#555" stroke-width="1"/>
<line x1="46.8" y1="804.1" x2="46.8" y2="807.1" stroke="#555" stroke-width="1"/>
<text x="46.8" y="817.02" font-size="11" fill="#4a4a4a" text-anchor="middle">200</text>
<line x1="78.26" y1="804.1" x2="78.26" y2="807.1" stroke="#555" stroke-width="1"/>
<text x="78.26" y="817.02" font-size="11" fill="#4a4a4a" text-anchor="middle">300</text>
<line x1="109.72" y1="804.1" x2="109.72" y2="807.1" stroke="#555" stroke-width="1"/>
<text x="109.72" y="817.02" font-size="11" fill="#4a4a4a" text-anchor="middle">400</text>
<line x1="141.18" y1="804.1" x2="141.18" y2="807.1" stroke="#555" stroke-width="1"/>
<text x="141.18" y="817.02" font-size="11" fill="#4a4a4a" text-anchor="middle">500</text>
<line x1="172.64" y1="804.1" x2="172.64" y2="807.1" stroke="#555" stroke-width="1"/>
<text x="172.64" y="817.02" font-size="11" fill="#4a4a4a" text-anchor="middle">600</text>
<line x1="204.1" y1="804.1" x2="204.1" y2="807.1" stroke="#555" stroke-width="1"/>
<text x="204.1" y="817.02" font-size="11" fill="#4a4a4a" text-anchor="middle">700</text>
<line x1="62.53" y1="804.1" x2="62.53" y2="805.9" stroke="#555" stroke-width="1"/>
<line x1="93.99" y1="804.1" x2="93.99" y2="805.9" stroke="#555" stroke-width="1"/>
<line x1="125.45" y1="804.1" x2="125.45" y2="805.9" stroke="#555" stroke-width="1"/>
<line x1="156.91" y1="804.1" x2="156.91" y2="805.9" stroke="#555" stroke-width="1"/>
<line x1="188.37" y1="804.1" x2="188.37" y2="805.9" stroke="#555" stroke-width="1"/>
<line x1="141.7" y1="734.6" x2="154.8" y2="734.6" stroke="#9dc0d4" stroke-width="2.1"/>
<text x="160.6" y="738.2" font-size="10.5" fill="#9dc0d4" text-anchor="start">POAM-1</text>
<line x1="141.7" y1="747.8" x2="154.8" y2="747.8" stroke="#4a87ab" stroke-width="1.6"/>
<text x="160.6" y="751.4" font-size="10.5" fill="#4a87ab" text-anchor="start">POAM-2</text>
<line x1="141.7" y1="761.1" x2="154.8" y2="761.1" stroke="#dfa697" stroke-width="2.4"/>
<text x="160.6" y="764.7" font-size="10.5" fill="#dfa697" text-anchor="start">POAM-3</text>
<line x1="141.7" y1="774.5" x2="154.8" y2="774.5" stroke="#c26850" stroke-width="2.6"/>
<text x="160.6" y="778.1" font-size="10.5" fill="#c26850" text-anchor="start">POAM-4</text>
<rect x="289.35" y="722.79" width="22.5" height="80.91" fill="url(#g0)"/>
<rect x="330.55" y="731.34" width="22.5" height="72.36" fill="url(#g1)"/>
<rect x="371.95" y="788.13" width="22.5" height="15.57" fill="url(#g2)"/>
<rect x="412.95" y="794.89" width="22.5" height="8.81" fill="url(#g3)"/>
<text x="300.6" y="717.8" font-size="10.5" fill="#9fc1d6" text-anchor="middle">544.6</text>
<text x="341.8" y="729.3" font-size="10.5" fill="#3d7ca4" text-anchor="middle">534.6</text>
<text x="383.2" y="785.4" font-size="10.5" fill="#e2a596" text-anchor="middle">468.2</text>
<text x="424.2" y="793.4" font-size="10.5" fill="#c4634e" text-anchor="middle">460.3</text>
<line x1="300.6" y1="803.7" x2="300.6" y2="806.7" stroke="#666" stroke-width="1"/>
<line x1="341.8" y1="803.7" x2="341.8" y2="806.7" stroke="#666" stroke-width="1"/>
<line x1="383.2" y1="803.7" x2="383.2" y2="806.7" stroke="#666" stroke-width="1"/>
<line x1="424.2" y1="803.7" x2="424.2" y2="806.7" stroke="#666" stroke-width="1"/>
<text x="306.4" y="815.5" font-size="11.3" fill="#9fc1d6" text-anchor="end" transform="rotate(-45 306.4 815.5)">PAOM-1</text>
<text x="347.6" y="815.5" font-size="11.3" fill="#3d7ca4" text-anchor="end" transform="rotate(-45 347.6 815.5)">PAOM-2</text>
<text x="389" y="815.5" font-size="11.3" fill="#e2a596" text-anchor="end" transform="rotate(-45 389 815.5)">PAOM-3</text>
<text x="430" y="815.5" font-size="11.3" fill="#c4634e" text-anchor="end" transform="rotate(-45 430 815.5)">PAOM-4</text>
<rect x="280.1" y="675.4" width="164.4" height="128.3" fill="none" stroke="#555" stroke-width="1.2"/>
<line x1="280.1" y1="675.4" x2="280.1" y2="803.7" stroke="#8f8f8f" stroke-width="1.9"/>
<line x1="277.5" y1="803.7" x2="280.1" y2="803.7" stroke="#555" stroke-width="1"/>
<text x="275.5" y="809.03" font-size="14.8" fill="#333" text-anchor="end">450</text>
<line x1="277.5" y1="760.94" x2="280.1" y2="760.94" stroke="#555" stroke-width="1"/>
<text x="275.5" y="766.26" font-size="14.8" fill="#333" text-anchor="end">500</text>
<line x1="277.5" y1="718.17" x2="280.1" y2="718.17" stroke="#555" stroke-width="1"/>
<text x="275.5" y="723.5" font-size="14.8" fill="#333" text-anchor="end">550</text>
<line x1="277.5" y1="675.41" x2="280.1" y2="675.41" stroke="#555" stroke-width="1"/>
<text x="275.5" y="680.73" font-size="14.8" fill="#333" text-anchor="end">600</text>
<line x1="278.6" y1="782.32" x2="280.1" y2="782.32" stroke="#555" stroke-width="1"/>
<line x1="278.6" y1="739.55" x2="280.1" y2="739.55" stroke="#555" stroke-width="1"/>
<line x1="278.6" y1="696.79" x2="280.1" y2="696.79" stroke="#555" stroke-width="1"/>
<path d="M339 685.9 Q360.83 685.9 376.54 702.4" fill="none" stroke="url(#ag4)" stroke-width="2.7"/>
<path d="M383.47 711.7 L371.64 705.8 L381.43 699 Z" fill="url(#ag4)"/>
<rect x="530.75" y="722.69" width="22.5" height="81.71" fill="url(#g0)"/>
<rect x="570.95" y="724.39" width="22.5" height="80.01" fill="url(#g1)"/>
<rect x="611.15" y="726.95" width="22.5" height="77.45" fill="url(#g2)"/>
<rect x="651.55" y="732.06" width="22.5" height="72.34" fill="url(#g3)"/>
<text x="542" y="717.8" font-size="9.2" fill="#9fc1d6" text-anchor="middle">19.1</text>
<text x="582.2" y="721.6" font-size="9.2" fill="#3d7ca4" text-anchor="middle">18.7</text>
<text x="622.4" y="725.1" font-size="9.2" fill="#e2a596" text-anchor="middle">18.1</text>
<text x="662.8" y="729.7" font-size="9.2" fill="#c4634e" text-anchor="middle">16.9</text>
<line x1="542" y1="804.4" x2="542" y2="807.4" stroke="#666" stroke-width="1"/>
<line x1="582.2" y1="804.4" x2="582.2" y2="807.4" stroke="#666" stroke-width="1"/>
<line x1="622.4" y1="804.4" x2="622.4" y2="807.4" stroke="#666" stroke-width="1"/>
<line x1="662.8" y1="804.4" x2="662.8" y2="807.4" stroke="#666" stroke-width="1"/>
<text x="547.8" y="816.2" font-size="11.3" fill="#9fc1d6" text-anchor="end" transform="rotate(-45 547.8 816.2)">PAOM-1</text>
<text x="588" y="816.2" font-size="11.3" fill="#3d7ca4" text-anchor="end" transform="rotate(-45 588 816.2)">PAOM-2</text>
<text x="628.2" y="816.2" font-size="11.3" fill="#e2a596" text-anchor="end" transform="rotate(-45 628.2 816.2)">PAOM-3</text>
<text x="668.6" y="816.2" font-size="11.3" fill="#c4634e" text-anchor="end" transform="rotate(-45 668.6 816.2)">PAOM-4</text>
<rect x="522.2" y="676.3" width="160.3" height="128.1" fill="none" stroke="#555" stroke-width="1.2"/>
<line x1="522.2" y1="804.4" x2="682.5" y2="804.4" stroke="#8f8f8f" stroke-width="1.8"/>
<line x1="522.2" y1="676.3" x2="522.2" y2="804.4" stroke="#8f8f8f" stroke-width="1.9"/>
<line x1="519.6" y1="804" x2="522.2" y2="804" stroke="#555" stroke-width="1"/>
<text x="517.6" y="808.97" font-size="13.8" fill="#333" text-anchor="end">0</text>
<line x1="519.6" y1="782.72" x2="522.2" y2="782.72" stroke="#555" stroke-width="1"/>
<text x="517.6" y="787.68" font-size="13.8" fill="#333" text-anchor="end">5</text>
<line x1="519.6" y1="761.43" x2="522.2" y2="761.43" stroke="#555" stroke-width="1"/>
<text x="517.6" y="766.4" font-size="13.8" fill="#333" text-anchor="end">10</text>
<line x1="519.6" y1="740.14" x2="522.2" y2="740.14" stroke="#555" stroke-width="1"/>
<text x="517.6" y="745.11" font-size="13.8" fill="#333" text-anchor="end">15</text>
<line x1="519.6" y1="718.86" x2="522.2" y2="718.86" stroke="#555" stroke-width="1"/>
<text x="517.6" y="723.83" font-size="13.8" fill="#333" text-anchor="end">20</text>
<line x1="519.6" y1="697.58" x2="522.2" y2="697.58" stroke="#555" stroke-width="1"/>
<text x="517.6" y="702.54" font-size="13.8" fill="#333" text-anchor="end">25</text>
<line x1="519.6" y1="676.29" x2="522.2" y2="676.29" stroke="#555" stroke-width="1"/>
<text x="517.6" y="681.26" font-size="13.8" fill="#333" text-anchor="end">30</text>
<line x1="520.7" y1="793.36" x2="522.2" y2="793.36" stroke="#555" stroke-width="1"/>
<line x1="520.7" y1="772.07" x2="522.2" y2="772.07" stroke="#555" stroke-width="1"/>
<line x1="520.7" y1="750.79" x2="522.2" y2="750.79" stroke="#555" stroke-width="1"/>
<line x1="520.7" y1="729.5" x2="522.2" y2="729.5" stroke="#555" stroke-width="1"/>
<line x1="520.7" y1="708.22" x2="522.2" y2="708.22" stroke="#555" stroke-width="1"/>
<line x1="520.7" y1="686.93" x2="522.2" y2="686.93" stroke="#555" stroke-width="1"/>
<path d="M581.6 685.9 Q603 685.9 618.4 702.4" fill="none" stroke="url(#ag5)" stroke-width="2.7"/>
<path d="M625.2 711.7 L613.6 705.8 L623.2 699 Z" fill="url(#ag5)"/>
<path d="M339.2 37.6 Q356 37.5 373.55 25.95" fill="none" stroke="url(#ag6)" stroke-width="2.7"/>
<path d="M381.8 17.7 L369.4 21.8 L377.7 30.1 Z" fill="url(#ag6)"/>
<path d="M583.1 19.9 Q604.5 19.9 619.9 36.4" fill="none" stroke="url(#ag7)" stroke-width="2.7"/>
<path d="M626.7 45.7 L615.1 39.8 L624.7 33 Z" fill="url(#ag7)"/>
<text x="-0.2" y="13.9" font-size="19" fill="#444" text-anchor="start">(A)</text>
<text x="213.9" y="12.8" font-size="19" fill="#444" text-anchor="start">(B)</text>
<text x="456.4" y="13.7" font-size="19" fill="#444" text-anchor="start">(C)</text>
<text x="-0.6" y="203.6" font-size="19" fill="#444" text-anchor="start">(D)</text>
<text x="213.9" y="204.7" font-size="19" fill="#444" text-anchor="start">(E)</text>
<text x="457.5" y="203.6" font-size="19" fill="#444" text-anchor="start">(F)</text>
<text x="-1.8" y="408.7" font-size="19" fill="#444" text-anchor="start">(G)</text>
<text x="212.8" y="409.3" font-size="19" fill="#444" text-anchor="start">(H)</text>
<text x="2.7" y="672.2" font-size="19" fill="#444" text-anchor="start">(I)</text>
<text x="214.3" y="671.2" font-size="19" fill="#444" text-anchor="start">(J)</text>
<text x="463.2" y="671.4" font-size="19" fill="#444" text-anchor="start">(K)</text>
<text x="27.5" y="75.1" font-size="15.2" fill="#4a4a4a" text-anchor="middle" transform="rotate(-90 27.5 75.1)">Stress (MPa)</text>
<text x="255.6" y="81.7" font-size="15.65" fill="#4a4a4a" text-anchor="middle" transform="rotate(-90 255.6 81.7)">Tensile Strength (MPa)</text>
<text x="495.6" y="81.8" font-size="15.55" fill="#4a4a4a" text-anchor="middle" transform="rotate(-90 495.6 81.8)">Elongation at Break (%)</text>
<text x="24.9" y="275.9" font-size="16.1" fill="#1a1a1a" text-anchor="middle" transform="rotate(-90 24.9 275.9)">O<tspan font-size="10.5" dy="4">2</tspan><tspan dy="-4"> (10</tspan><tspan font-size="10.5" dy="-6.5">-5</tspan><tspan dy="6.5"> barrer)</tspan></text>
<text x="254.5" y="276.4" font-size="16.1" fill="#1a1a1a" text-anchor="middle" transform="rotate(-90 254.5 276.4)">CO<tspan font-size="10.5" dy="4">2</tspan><tspan dy="-4"> (10</tspan><tspan font-size="10.5" dy="-6.5">-5</tspan><tspan dy="6.5"> barrer)</tspan></text>
<text x="500.4" y="289.5" font-size="16" fill="#1a1a1a" text-anchor="middle" transform="rotate(-90 500.4 289.5)">H<tspan font-size="10.8" dy="4">2</tspan><tspan dy="-4">O (10</tspan><tspan font-size="10.8" dy="-6.8">-14</tspan><tspan dy="6.8">g·cm/cm</tspan><tspan font-size="10.8" dy="-6.8">2</tspan><tspan dy="6.8">·s·Pa)</tspan></text>
<text x="20" y="738" font-size="14.6" fill="#4a4a4a" text-anchor="middle" transform="rotate(-90 20 738)">HRR (W/g)</text>
<text x="246.8" y="739.5" font-size="14.2" fill="#4a4a4a" text-anchor="middle" transform="rotate(-90 246.8 739.5)">pHRR (W/g)</text>
<text x="498.9" y="740.7" font-size="13.6" fill="#4a4a4a" text-anchor="middle" transform="rotate(-90 498.9 740.7)">THR (kJ/g)</text>
<text x="126.2" y="167.5" font-size="14.6" fill="#4a4a4a" text-anchor="middle" transform="rotate(0 126.2 167.5)">Strain (%)</text>
<text x="125.7" y="830.6" font-size="14.75" fill="#4a4a4a" text-anchor="middle" transform="rotate(0 125.7 830.6)">Temperature (°C)</text>
</g>
</svg>
</body></html>
